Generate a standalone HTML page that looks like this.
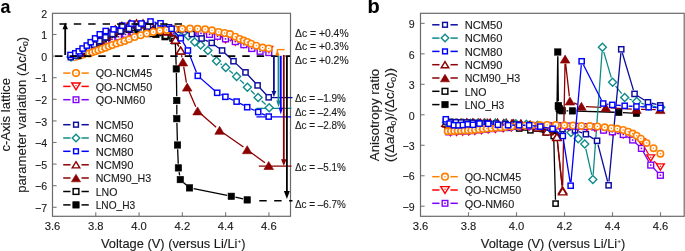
<!DOCTYPE html>
<html><head><meta charset="utf-8"><style>
html,body{margin:0;padding:0;background:#fff;}
body{width:685px;height:251px;overflow:hidden;}
svg{display:block;}
text{font-family:"Liberation Sans",sans-serif;}
svg{will-change:transform;}
text{stroke:#1a1a1a;stroke-width:0.12px;}
</style></head><body>
<svg width="685" height="251" viewBox="0 0 685 251">
<rect width="685" height="251" fill="#fff"/>
<g font-family="Liberation Sans, sans-serif">
<text x="0.6" y="13.3" font-size="19" text-anchor="start" font-weight="bold" fill="#000" textLength="9.9" lengthAdjust="spacingAndGlyphs">a</text>
<text x="47.2" y="17.6" font-size="10.6" text-anchor="end" font-weight="normal" fill="#1a1a1a">2</text>
<line x1="52.5" y1="34.5" x2="56.6" y2="34.5" stroke="#7a7a7a" stroke-width="1.1"/>
<text x="47.2" y="39.2" font-size="10.6" text-anchor="end" font-weight="normal" fill="#1a1a1a">1</text>
<line x1="52.5" y1="56.1" x2="56.6" y2="56.1" stroke="#7a7a7a" stroke-width="1.1"/>
<text x="47.2" y="60.8" font-size="10.6" text-anchor="end" font-weight="normal" fill="#1a1a1a">0</text>
<line x1="52.5" y1="77.7" x2="56.6" y2="77.7" stroke="#7a7a7a" stroke-width="1.1"/>
<text x="47.2" y="82.4" font-size="10.6" text-anchor="end" font-weight="normal" fill="#1a1a1a">−1</text>
<line x1="52.5" y1="99.3" x2="56.6" y2="99.3" stroke="#7a7a7a" stroke-width="1.1"/>
<text x="47.2" y="104" font-size="10.6" text-anchor="end" font-weight="normal" fill="#1a1a1a">−2</text>
<line x1="52.5" y1="120.9" x2="56.6" y2="120.9" stroke="#7a7a7a" stroke-width="1.1"/>
<text x="47.2" y="125.6" font-size="10.6" text-anchor="end" font-weight="normal" fill="#1a1a1a">−3</text>
<line x1="52.5" y1="142.5" x2="56.6" y2="142.5" stroke="#7a7a7a" stroke-width="1.1"/>
<text x="47.2" y="147.2" font-size="10.6" text-anchor="end" font-weight="normal" fill="#1a1a1a">−4</text>
<line x1="52.5" y1="164.1" x2="56.6" y2="164.1" stroke="#7a7a7a" stroke-width="1.1"/>
<text x="47.2" y="168.8" font-size="10.6" text-anchor="end" font-weight="normal" fill="#1a1a1a">−5</text>
<line x1="52.5" y1="185.7" x2="56.6" y2="185.7" stroke="#7a7a7a" stroke-width="1.1"/>
<text x="47.2" y="190.4" font-size="10.6" text-anchor="end" font-weight="normal" fill="#1a1a1a">−6</text>
<line x1="52.5" y1="207.3" x2="56.6" y2="207.3" stroke="#7a7a7a" stroke-width="1.1"/>
<text x="47.2" y="212" font-size="10.6" text-anchor="end" font-weight="normal" fill="#1a1a1a">−7</text>
<text x="52.5" y="229.9" font-size="10.5" text-anchor="middle" font-weight="normal" fill="#1a1a1a" textLength="15.6" lengthAdjust="spacingAndGlyphs">3.6</text>
<line x1="95.78" y1="216.3" x2="95.78" y2="212.20000000000002" stroke="#7a7a7a" stroke-width="1.1"/>
<text x="95.78" y="229.9" font-size="10.5" text-anchor="middle" font-weight="normal" fill="#1a1a1a" textLength="15.6" lengthAdjust="spacingAndGlyphs">3.8</text>
<line x1="139.06" y1="216.3" x2="139.06" y2="212.20000000000002" stroke="#7a7a7a" stroke-width="1.1"/>
<text x="139.06" y="229.9" font-size="10.5" text-anchor="middle" font-weight="normal" fill="#1a1a1a" textLength="15.6" lengthAdjust="spacingAndGlyphs">4.0</text>
<line x1="182.34" y1="216.3" x2="182.34" y2="212.20000000000002" stroke="#7a7a7a" stroke-width="1.1"/>
<text x="182.34" y="229.9" font-size="10.5" text-anchor="middle" font-weight="normal" fill="#1a1a1a" textLength="15.6" lengthAdjust="spacingAndGlyphs">4.2</text>
<line x1="225.62" y1="216.3" x2="225.62" y2="212.20000000000002" stroke="#7a7a7a" stroke-width="1.1"/>
<text x="225.62" y="229.9" font-size="10.5" text-anchor="middle" font-weight="normal" fill="#1a1a1a" textLength="15.6" lengthAdjust="spacingAndGlyphs">4.4</text>
<line x1="268.9" y1="216.3" x2="268.9" y2="212.20000000000002" stroke="#7a7a7a" stroke-width="1.1"/>
<text x="268.9" y="229.9" font-size="10.5" text-anchor="middle" font-weight="normal" fill="#1a1a1a" textLength="15.6" lengthAdjust="spacingAndGlyphs">4.6</text>
<text x="101" y="248.1" font-size="12.2" text-anchor="start" font-weight="normal" fill="#1a1a1a" textLength="144.5" lengthAdjust="spacingAndGlyphs">Voltage (V) (versus Li/Li<tspan font-size="6.2" dy="-5.6">+</tspan><tspan dy="5.6">)</tspan></text>
<g transform="translate(10.4,114.8) rotate(-90)"><text x="0" y="0" font-size="12.2" text-anchor="middle" fill="#1a1a1a" textLength="73.5" lengthAdjust="spacingAndGlyphs">c-Axis lattice</text></g>
<g transform="translate(25.6,114.8) rotate(-90)"><text x="0" y="0" font-size="12.2" text-anchor="middle" fill="#1a1a1a" textLength="156" lengthAdjust="spacingAndGlyphs">parameter variation (Δc/c<tspan font-size="8" dy="2.5">0</tspan><tspan dy="-2.5">)</tspan></text></g>
<rect x="52.5" y="13.3" width="238.0" height="203.0" fill="none" stroke="#6a6a6a" stroke-width="1.2"/>
<line x1="259.3" y1="200.8" x2="292.5" y2="200.8" stroke="#000" stroke-width="1.6" stroke-dasharray="7.4 7.5"/>
<line x1="258.8" y1="166.2" x2="291.5" y2="166.2" stroke="#8b0000" stroke-width="1.3"/>
<line x1="271.5" y1="97.6" x2="292.5" y2="97.6" stroke="#0c0c9e" stroke-width="1.3"/>
<line x1="256.4" y1="108.3" x2="291.3" y2="108.3" stroke="#108a8a" stroke-width="1.3"/>
<line x1="256.4" y1="116.8" x2="291" y2="116.8" stroke="#0000ff" stroke-width="1.3"/>
<line x1="74.3" y1="60.7" x2="86" y2="57.2" stroke="#ff7f00" stroke-width="1.3"/>
<path d="M229.97 40.79L230.83 41.01" fill="none" stroke="#ff0000" stroke-width="1.3" stroke-linecap="butt"/>
<path d="M90.5 55.3L94.4 49.1L86.6 49.1Z" fill="#fff" stroke="#ff0000" stroke-width="1.4" stroke-linejoin="miter"/><circle cx="90.5" cy="51.4" r="0.7" fill="#ff0000"/>
<path d="M96 52.3L99.9 46.1L92.1 46.1Z" fill="#fff" stroke="#ff0000" stroke-width="1.4" stroke-linejoin="miter"/><circle cx="96" cy="48.4" r="0.7" fill="#ff0000"/>
<path d="M101.5 49.4L105.4 43.2L97.6 43.2Z" fill="#fff" stroke="#ff0000" stroke-width="1.4" stroke-linejoin="miter"/><circle cx="101.5" cy="45.5" r="0.7" fill="#ff0000"/>
<path d="M107.5 46.5L111.4 40.3L103.6 40.3Z" fill="#fff" stroke="#ff0000" stroke-width="1.4" stroke-linejoin="miter"/><circle cx="107.5" cy="42.6" r="0.7" fill="#ff0000"/>
<path d="M113.5 43.9L117.4 37.7L109.6 37.7Z" fill="#fff" stroke="#ff0000" stroke-width="1.4" stroke-linejoin="miter"/><circle cx="113.5" cy="40" r="0.7" fill="#ff0000"/>
<path d="M120 41.5L123.9 35.3L116.1 35.3Z" fill="#fff" stroke="#ff0000" stroke-width="1.4" stroke-linejoin="miter"/><circle cx="120" cy="37.6" r="0.7" fill="#ff0000"/>
<path d="M127 39.3L130.9 33.1L123.1 33.1Z" fill="#fff" stroke="#ff0000" stroke-width="1.4" stroke-linejoin="miter"/><circle cx="127" cy="35.4" r="0.7" fill="#ff0000"/>
<path d="M134.5 37.5L138.4 31.3L130.6 31.3Z" fill="#fff" stroke="#ff0000" stroke-width="1.4" stroke-linejoin="miter"/><circle cx="134.5" cy="33.6" r="0.7" fill="#ff0000"/>
<path d="M142.5 36.1L146.4 29.9L138.6 29.9Z" fill="#fff" stroke="#ff0000" stroke-width="1.4" stroke-linejoin="miter"/><circle cx="142.5" cy="32.2" r="0.7" fill="#ff0000"/>
<path d="M151 35.1L154.9 28.9L147.1 28.9Z" fill="#fff" stroke="#ff0000" stroke-width="1.4" stroke-linejoin="miter"/><circle cx="151" cy="31.2" r="0.7" fill="#ff0000"/>
<path d="M160 34.6L163.9 28.4L156.1 28.4Z" fill="#fff" stroke="#ff0000" stroke-width="1.4" stroke-linejoin="miter"/><circle cx="160" cy="30.7" r="0.7" fill="#ff0000"/>
<path d="M169 34.5L172.9 28.3L165.1 28.3Z" fill="#fff" stroke="#ff0000" stroke-width="1.4" stroke-linejoin="miter"/><circle cx="169" cy="30.6" r="0.7" fill="#ff0000"/>
<path d="M178 34.7L181.9 28.5L174.1 28.5Z" fill="#fff" stroke="#ff0000" stroke-width="1.4" stroke-linejoin="miter"/><circle cx="178" cy="30.8" r="0.7" fill="#ff0000"/>
<path d="M186.5 35.1L190.4 28.9L182.6 28.9Z" fill="#fff" stroke="#ff0000" stroke-width="1.4" stroke-linejoin="miter"/><circle cx="186.5" cy="31.2" r="0.7" fill="#ff0000"/>
<path d="M194.5 35.6L198.4 29.4L190.6 29.4Z" fill="#fff" stroke="#ff0000" stroke-width="1.4" stroke-linejoin="miter"/><circle cx="194.5" cy="31.7" r="0.7" fill="#ff0000"/>
<path d="M202.5 36.1L206.4 29.9L198.6 29.9Z" fill="#fff" stroke="#ff0000" stroke-width="1.4" stroke-linejoin="miter"/><circle cx="202.5" cy="32.2" r="0.7" fill="#ff0000"/>
<path d="M209.8 36.5L213.7 30.3L205.9 30.3Z" fill="#fff" stroke="#ff0000" stroke-width="1.4" stroke-linejoin="miter"/><circle cx="209.8" cy="32.6" r="0.7" fill="#ff0000"/>
<path d="M217.5 39.6L221.4 33.4L213.6 33.4Z" fill="#fff" stroke="#ff0000" stroke-width="1.4" stroke-linejoin="miter"/><circle cx="217.5" cy="35.7" r="0.7" fill="#ff0000"/>
<path d="M225.5 42.8L229.4 36.6L221.6 36.6Z" fill="#fff" stroke="#ff0000" stroke-width="1.4" stroke-linejoin="miter"/><circle cx="225.5" cy="38.9" r="0.7" fill="#ff0000"/>
<path d="M235.3 45.2L239.2 39L231.4 39Z" fill="#fff" stroke="#ff0000" stroke-width="1.4" stroke-linejoin="miter"/><circle cx="235.3" cy="41.3" r="0.7" fill="#ff0000"/>
<path d="M243.8 47.4L247.7 41.2L239.9 41.2Z" fill="#fff" stroke="#ff0000" stroke-width="1.4" stroke-linejoin="miter"/><circle cx="243.8" cy="43.5" r="0.7" fill="#ff0000"/>
<path d="M251.7 49.6L255.6 43.4L247.8 43.4Z" fill="#fff" stroke="#ff0000" stroke-width="1.4" stroke-linejoin="miter"/><circle cx="251.7" cy="45.7" r="0.7" fill="#ff0000"/>
<path d="M260.1 51.6L264 45.4L256.2 45.4Z" fill="#fff" stroke="#ff0000" stroke-width="1.4" stroke-linejoin="miter"/><circle cx="260.1" cy="47.7" r="0.7" fill="#ff0000"/>
<path d="M268.8 52.7L272.7 46.5L264.9 46.5Z" fill="#fff" stroke="#ff0000" stroke-width="1.4" stroke-linejoin="miter"/><circle cx="268.8" cy="48.8" r="0.7" fill="#ff0000"/>
<path d="M144.99 31.12L145.51 31.08M153.5 30.71L154.5 30.69M162.5 30.64L163.5 30.66M171.5 30.88L172.5 30.92M180.49 31.38L181.01 31.42M204.97 33.81L205.53 33.89M221.3 37.54L221.7 37.66M229.36 39.96L231.44 40.54M239.06 42.97L240.04 43.33M247.4 46.43L248.1 46.77M255.49 49.76L256.31 50.04M264.06 51.89L264.84 52.01" fill="none" stroke="#8000ff" stroke-width="1.3" stroke-linecap="butt"/>
<rect x="86.1" y="48.9" width="5.8" height="5.8" fill="#fff" stroke="#8000ff" stroke-width="1.4"/><rect x="88.2" y="51" width="1.6" height="1.6" fill="#8000ff"/>
<rect x="91.6" y="45.7" width="5.8" height="5.8" fill="#fff" stroke="#8000ff" stroke-width="1.4"/><rect x="93.7" y="47.8" width="1.6" height="1.6" fill="#8000ff"/>
<rect x="97.1" y="42.5" width="5.8" height="5.8" fill="#fff" stroke="#8000ff" stroke-width="1.4"/><rect x="99.2" y="44.6" width="1.6" height="1.6" fill="#8000ff"/>
<rect x="103.1" y="39.4" width="5.8" height="5.8" fill="#fff" stroke="#8000ff" stroke-width="1.4"/><rect x="105.2" y="41.5" width="1.6" height="1.6" fill="#8000ff"/>
<rect x="109.1" y="36.5" width="5.8" height="5.8" fill="#fff" stroke="#8000ff" stroke-width="1.4"/><rect x="111.2" y="38.6" width="1.6" height="1.6" fill="#8000ff"/>
<rect x="115.6" y="33.9" width="5.8" height="5.8" fill="#fff" stroke="#8000ff" stroke-width="1.4"/><rect x="117.7" y="36" width="1.6" height="1.6" fill="#8000ff"/>
<rect x="122.6" y="31.5" width="5.8" height="5.8" fill="#fff" stroke="#8000ff" stroke-width="1.4"/><rect x="124.7" y="33.6" width="1.6" height="1.6" fill="#8000ff"/>
<rect x="130.1" y="29.7" width="5.8" height="5.8" fill="#fff" stroke="#8000ff" stroke-width="1.4"/><rect x="132.2" y="31.8" width="1.6" height="1.6" fill="#8000ff"/>
<rect x="138.1" y="28.5" width="5.8" height="5.8" fill="#fff" stroke="#8000ff" stroke-width="1.4"/><rect x="140.2" y="30.6" width="1.6" height="1.6" fill="#8000ff"/>
<rect x="146.6" y="27.9" width="5.8" height="5.8" fill="#fff" stroke="#8000ff" stroke-width="1.4"/><rect x="148.7" y="30" width="1.6" height="1.6" fill="#8000ff"/>
<rect x="155.6" y="27.7" width="5.8" height="5.8" fill="#fff" stroke="#8000ff" stroke-width="1.4"/><rect x="157.7" y="29.8" width="1.6" height="1.6" fill="#8000ff"/>
<rect x="164.6" y="27.8" width="5.8" height="5.8" fill="#fff" stroke="#8000ff" stroke-width="1.4"/><rect x="166.7" y="29.9" width="1.6" height="1.6" fill="#8000ff"/>
<rect x="173.6" y="28.2" width="5.8" height="5.8" fill="#fff" stroke="#8000ff" stroke-width="1.4"/><rect x="175.7" y="30.3" width="1.6" height="1.6" fill="#8000ff"/>
<rect x="182.1" y="28.8" width="5.8" height="5.8" fill="#fff" stroke="#8000ff" stroke-width="1.4"/><rect x="184.2" y="30.9" width="1.6" height="1.6" fill="#8000ff"/>
<rect x="190.1" y="29.6" width="5.8" height="5.8" fill="#fff" stroke="#8000ff" stroke-width="1.4"/><rect x="192.2" y="31.7" width="1.6" height="1.6" fill="#8000ff"/>
<rect x="198.1" y="30.4" width="5.8" height="5.8" fill="#fff" stroke="#8000ff" stroke-width="1.4"/><rect x="200.2" y="32.5" width="1.6" height="1.6" fill="#8000ff"/>
<rect x="206.6" y="31.5" width="5.8" height="5.8" fill="#fff" stroke="#8000ff" stroke-width="1.4"/><rect x="208.7" y="33.6" width="1.6" height="1.6" fill="#8000ff"/>
<rect x="214.6" y="33.4" width="5.8" height="5.8" fill="#fff" stroke="#8000ff" stroke-width="1.4"/><rect x="216.7" y="35.5" width="1.6" height="1.6" fill="#8000ff"/>
<rect x="222.6" y="36" width="5.8" height="5.8" fill="#fff" stroke="#8000ff" stroke-width="1.4"/><rect x="224.7" y="38.1" width="1.6" height="1.6" fill="#8000ff"/>
<rect x="232.4" y="38.7" width="5.8" height="5.8" fill="#fff" stroke="#8000ff" stroke-width="1.4"/><rect x="234.5" y="40.8" width="1.6" height="1.6" fill="#8000ff"/>
<rect x="240.9" y="41.8" width="5.8" height="5.8" fill="#fff" stroke="#8000ff" stroke-width="1.4"/><rect x="243" y="43.9" width="1.6" height="1.6" fill="#8000ff"/>
<rect x="248.8" y="45.6" width="5.8" height="5.8" fill="#fff" stroke="#8000ff" stroke-width="1.4"/><rect x="250.9" y="47.7" width="1.6" height="1.6" fill="#8000ff"/>
<rect x="257.2" y="48.4" width="5.8" height="5.8" fill="#fff" stroke="#8000ff" stroke-width="1.4"/><rect x="259.3" y="50.5" width="1.6" height="1.6" fill="#8000ff"/>
<rect x="265.9" y="49.7" width="5.8" height="5.8" fill="#fff" stroke="#8000ff" stroke-width="1.4"/><rect x="268" y="51.8" width="1.6" height="1.6" fill="#8000ff"/>
<path d="M133.2 29.64L133.8 29.66M142.13 30.58L142.87 30.72M150.98 32.83L152.02 33.17M160.07 35.54L160.93 35.76M169.06 37.87L171.14 38.43M175.36 43.7L176.14 64.7M176.37 73.1L176.73 96.3M176.8 104.7L176.8 114.5M176.91 122.9L177.39 140.8M177.66 149.2L178.24 163.7M179.07 172.05L179.63 175.45M183.42 182.41L186.38 185.09M193.62 188.73L227.18 195.47M235.4 197.23L243.1 198.97" fill="none" stroke="#000000" stroke-width="1.3" stroke-linecap="butt"/>
<rect x="74.8" y="52.4" width="6.4" height="6.4" fill="#000000" stroke="#000000" stroke-width="0.6"/>
<rect x="80.3" y="49.6" width="6.4" height="6.4" fill="#000000" stroke="#000000" stroke-width="0.6"/>
<rect x="85.8" y="46.2" width="6.4" height="6.4" fill="#000000" stroke="#000000" stroke-width="0.6"/>
<rect x="91.3" y="42.4" width="6.4" height="6.4" fill="#000000" stroke="#000000" stroke-width="0.6"/>
<rect x="97.3" y="38.3" width="6.4" height="6.4" fill="#000000" stroke="#000000" stroke-width="0.6"/>
<rect x="103.8" y="34.3" width="6.4" height="6.4" fill="#000000" stroke="#000000" stroke-width="0.6"/>
<rect x="110.8" y="30.6" width="6.4" height="6.4" fill="#000000" stroke="#000000" stroke-width="0.6"/>
<rect x="117.8" y="27.8" width="6.4" height="6.4" fill="#000000" stroke="#000000" stroke-width="0.6"/>
<rect x="125.8" y="26.3" width="6.4" height="6.4" fill="#000000" stroke="#000000" stroke-width="0.6"/>
<rect x="134.8" y="26.6" width="6.4" height="6.4" fill="#000000" stroke="#000000" stroke-width="0.6"/>
<rect x="143.8" y="28.3" width="6.4" height="6.4" fill="#000000" stroke="#000000" stroke-width="0.6"/>
<rect x="152.8" y="31.3" width="6.4" height="6.4" fill="#000000" stroke="#000000" stroke-width="0.6"/>
<rect x="161.8" y="33.6" width="6.4" height="6.4" fill="#000000" stroke="#000000" stroke-width="0.6"/>
<rect x="172" y="36.3" width="6.4" height="6.4" fill="#000000" stroke="#000000" stroke-width="0.6"/>
<rect x="173.1" y="65.7" width="6.4" height="6.4" fill="#000000" stroke="#000000" stroke-width="0.6"/>
<rect x="173.6" y="97.3" width="6.4" height="6.4" fill="#000000" stroke="#000000" stroke-width="0.6"/>
<rect x="173.6" y="115.5" width="6.4" height="6.4" fill="#000000" stroke="#000000" stroke-width="0.6"/>
<rect x="174.3" y="141.8" width="6.4" height="6.4" fill="#000000" stroke="#000000" stroke-width="0.6"/>
<rect x="175.2" y="164.7" width="6.4" height="6.4" fill="#000000" stroke="#000000" stroke-width="0.6"/>
<rect x="177.1" y="176.4" width="6.4" height="6.4" fill="#000000" stroke="#000000" stroke-width="0.6"/>
<rect x="186.3" y="184.7" width="6.4" height="6.4" fill="#000000" stroke="#000000" stroke-width="0.6"/>
<rect x="228.1" y="193.1" width="6.4" height="6.4" fill="#000000" stroke="#000000" stroke-width="0.6"/>
<rect x="244" y="196.7" width="6.4" height="6.4" fill="#000000" stroke="#000000" stroke-width="0.6"/>
<path d="M125.6 27.69L127.8 27.81M135.52 28.78L137.68 29.22M145.14 31.4L147.96 32.5M155.46 34.46L161.64 35.34" fill="none" stroke="#000000" stroke-width="1.3" stroke-linecap="butt"/>
<rect x="74.4" y="52.6" width="5.2" height="5.2" fill="#fff" stroke="#000000" stroke-width="1.45"/>
<rect x="79.4" y="50.1" width="5.2" height="5.2" fill="#fff" stroke="#000000" stroke-width="1.45"/>
<rect x="84.4" y="47.1" width="5.2" height="5.2" fill="#fff" stroke="#000000" stroke-width="1.45"/>
<rect x="89.4" y="43.7" width="5.2" height="5.2" fill="#fff" stroke="#000000" stroke-width="1.45"/>
<rect x="94.9" y="39.9" width="5.2" height="5.2" fill="#fff" stroke="#000000" stroke-width="1.45"/>
<rect x="100.9" y="36" width="5.2" height="5.2" fill="#fff" stroke="#000000" stroke-width="1.45"/>
<rect x="107.4" y="32.2" width="5.2" height="5.2" fill="#fff" stroke="#000000" stroke-width="1.45"/>
<rect x="113.4" y="28.9" width="5.2" height="5.2" fill="#fff" stroke="#000000" stroke-width="1.45"/>
<rect x="119.1" y="24.9" width="5.2" height="5.2" fill="#fff" stroke="#000000" stroke-width="1.45"/>
<rect x="129.1" y="25.4" width="5.2" height="5.2" fill="#fff" stroke="#000000" stroke-width="1.45"/>
<rect x="138.9" y="27.4" width="5.2" height="5.2" fill="#fff" stroke="#000000" stroke-width="1.45"/>
<rect x="149" y="31.3" width="5.2" height="5.2" fill="#fff" stroke="#000000" stroke-width="1.45"/>
<rect x="162.9" y="33.3" width="5.2" height="5.2" fill="#fff" stroke="#000000" stroke-width="1.45"/>
<rect x="170" y="35.9" width="5.2" height="5.2" fill="#fff" stroke="#000000" stroke-width="1.45"/>
<rect x="171.7" y="38.4" width="5.2" height="5.2" fill="#fff" stroke="#000000" stroke-width="1.45"/>
<path d="M164.07 29.15L164.43 29.35M171.53 34.96L172.47 36.04M177.43 43.67L178.67 46.33M181.5 55.01L182 57.49M183.68 66.53L186.42 82.57M189.04 91.32L195.76 106.68M201.05 113.94L216.15 127.26M223.36 132.95L243.44 147.05M250.91 152.42L264.99 162.78" fill="none" stroke="#8b0000" stroke-width="1.3" stroke-linecap="butt"/>
<path d="M81 48.6L85.8 56.6L76.2 56.6Z" fill="#8b0000" stroke="#8b0000" stroke-width="0.6"/>
<path d="M85.5 46.5L90.3 54.5L80.7 54.5Z" fill="#8b0000" stroke="#8b0000" stroke-width="0.6"/>
<path d="M90 43.3L94.8 51.3L85.2 51.3Z" fill="#8b0000" stroke="#8b0000" stroke-width="0.6"/>
<path d="M95 39.6L99.8 47.6L90.2 47.6Z" fill="#8b0000" stroke="#8b0000" stroke-width="0.6"/>
<path d="M100.5 35.5L105.3 43.5L95.7 43.5Z" fill="#8b0000" stroke="#8b0000" stroke-width="0.6"/>
<path d="M106.5 31.3L111.3 39.3L101.7 39.3Z" fill="#8b0000" stroke="#8b0000" stroke-width="0.6"/>
<path d="M113 27.3L117.8 35.3L108.2 35.3Z" fill="#8b0000" stroke="#8b0000" stroke-width="0.6"/>
<path d="M120 24L124.8 32L115.2 32Z" fill="#8b0000" stroke="#8b0000" stroke-width="0.6"/>
<path d="M127.5 21.7L132.3 29.7L122.7 29.7Z" fill="#8b0000" stroke="#8b0000" stroke-width="0.6"/>
<path d="M135 20.5L139.8 28.5L130.2 28.5Z" fill="#8b0000" stroke="#8b0000" stroke-width="0.6"/>
<path d="M143 20.3L147.8 28.3L138.2 28.3Z" fill="#8b0000" stroke="#8b0000" stroke-width="0.6"/>
<path d="M151.5 21L156.3 29L146.7 29Z" fill="#8b0000" stroke="#8b0000" stroke-width="0.6"/>
<path d="M160 23L164.8 31L155.2 31Z" fill="#8b0000" stroke="#8b0000" stroke-width="0.6"/>
<path d="M168.5 27.5L173.3 35.5L163.7 35.5Z" fill="#8b0000" stroke="#8b0000" stroke-width="0.6"/>
<path d="M175.5 35.5L180.3 43.5L170.7 43.5Z" fill="#8b0000" stroke="#8b0000" stroke-width="0.6"/>
<path d="M180.6 46.5L185.4 54.5L175.8 54.5Z" fill="#8b0000" stroke="#8b0000" stroke-width="0.6"/>
<path d="M182.9 58L187.7 66L178.1 66Z" fill="#8b0000" stroke="#8b0000" stroke-width="0.6"/>
<path d="M187.2 83.1L192 91.1L182.4 91.1Z" fill="#8b0000" stroke="#8b0000" stroke-width="0.6"/>
<path d="M197.6 106.9L202.4 114.9L192.8 114.9Z" fill="#8b0000" stroke="#8b0000" stroke-width="0.6"/>
<path d="M219.6 126.3L224.4 134.3L214.8 134.3Z" fill="#8b0000" stroke="#8b0000" stroke-width="0.6"/>
<path d="M247.2 145.7L252 153.7L242.4 153.7Z" fill="#8b0000" stroke="#8b0000" stroke-width="0.6"/>
<path d="M268.7 161.5L273.5 169.5L263.9 169.5Z" fill="#8b0000" stroke="#8b0000" stroke-width="0.6"/>
<path d="M152.78 26.38L153.22 26.42M162.69 27.83L163.31 27.97M172.56 30.5L173.44 30.8M182.51 33.94L183.69 34.36M210.96 54.2L213.44 57.2M220.42 63.67L221.78 64.63M229.38 70.48L232.92 73.42M240.01 79.88L243.99 83.82M250.84 90.55L254.66 94.25M261.63 100.85L265.67 104.55" fill="none" stroke="#108a8a" stroke-width="1.3" stroke-linecap="butt"/>
<path d="M71 53L75 57L71 61L67 57Z" fill="#fff" stroke="#108a8a" stroke-width="1.4"/>
<path d="M76 50.8L80 54.8L76 58.8L72 54.8Z" fill="#fff" stroke="#108a8a" stroke-width="1.4"/>
<path d="M81 48.2L85 52.2L81 56.2L77 52.2Z" fill="#fff" stroke="#108a8a" stroke-width="1.4"/>
<path d="M86 45L90 49L86 53L82 49Z" fill="#fff" stroke="#108a8a" stroke-width="1.4"/>
<path d="M91.5 41.5L95.5 45.5L91.5 49.5L87.5 45.5Z" fill="#fff" stroke="#108a8a" stroke-width="1.4"/>
<path d="M97.5 37.2L101.5 41.2L97.5 45.2L93.5 41.2Z" fill="#fff" stroke="#108a8a" stroke-width="1.4"/>
<path d="M104 33L108 37L104 41L100 37Z" fill="#fff" stroke="#108a8a" stroke-width="1.4"/>
<path d="M111.5 29L115.5 33L111.5 37L107.5 33Z" fill="#fff" stroke="#108a8a" stroke-width="1.4"/>
<path d="M120 25.8L124 29.8L120 33.8L116 29.8Z" fill="#fff" stroke="#108a8a" stroke-width="1.4"/>
<path d="M129 23.5L133 27.5L129 31.5L125 27.5Z" fill="#fff" stroke="#108a8a" stroke-width="1.4"/>
<path d="M138.5 22.3L142.5 26.3L138.5 30.3L134.5 26.3Z" fill="#fff" stroke="#108a8a" stroke-width="1.4"/>
<path d="M148 22L152 26L148 30L144 26Z" fill="#fff" stroke="#108a8a" stroke-width="1.4"/>
<path d="M158 22.8L162 26.8L158 30.8L154 26.8Z" fill="#fff" stroke="#108a8a" stroke-width="1.4"/>
<path d="M168 25L172 29L168 33L164 29Z" fill="#fff" stroke="#108a8a" stroke-width="1.4"/>
<path d="M178 28.3L182 32.3L178 36.3L174 32.3Z" fill="#fff" stroke="#108a8a" stroke-width="1.4"/>
<path d="M188.2 32L192.2 36L188.2 40L184.2 36Z" fill="#fff" stroke="#108a8a" stroke-width="1.4"/>
<path d="M194.7 37.9L198.7 41.9L194.7 45.9L190.7 41.9Z" fill="#fff" stroke="#108a8a" stroke-width="1.4"/>
<path d="M200.6 40.9L204.6 44.9L200.6 48.9L196.6 44.9Z" fill="#fff" stroke="#108a8a" stroke-width="1.4"/>
<path d="M207.9 46.5L211.9 50.5L207.9 54.5L203.9 50.5Z" fill="#fff" stroke="#108a8a" stroke-width="1.4"/>
<path d="M216.5 56.9L220.5 60.9L216.5 64.9L212.5 60.9Z" fill="#fff" stroke="#108a8a" stroke-width="1.4"/>
<path d="M225.7 63.4L229.7 67.4L225.7 71.4L221.7 67.4Z" fill="#fff" stroke="#108a8a" stroke-width="1.4"/>
<path d="M236.6 72.5L240.6 76.5L236.6 80.5L232.6 76.5Z" fill="#fff" stroke="#108a8a" stroke-width="1.4"/>
<path d="M247.4 83.2L251.4 87.2L247.4 91.2L243.4 87.2Z" fill="#fff" stroke="#108a8a" stroke-width="1.4"/>
<path d="M258.1 93.6L262.1 97.6L258.1 101.6L254.1 97.6Z" fill="#fff" stroke="#108a8a" stroke-width="1.4"/>
<path d="M269.2 103.8L273.2 107.8L269.2 111.8L265.2 107.8Z" fill="#fff" stroke="#108a8a" stroke-width="1.4"/>
<path d="M161.81 28.49L162.79 29.01M169.66 34.02L172.44 36.78M177.38 43.67L178.82 46.63" fill="none" stroke="#8b0000" stroke-width="1.3" stroke-linecap="butt"/>
<path d="M80 48.9L84.2 55.7L75.8 55.7Z" fill="#fff" stroke="#8b0000" stroke-width="1.4" stroke-linejoin="miter"/>
<path d="M84.5 46.8L88.7 53.6L80.3 53.6Z" fill="#fff" stroke="#8b0000" stroke-width="1.4" stroke-linejoin="miter"/>
<path d="M89 44L93.2 50.8L84.8 50.8Z" fill="#fff" stroke="#8b0000" stroke-width="1.4" stroke-linejoin="miter"/>
<path d="M94 40.6L98.2 47.4L89.8 47.4Z" fill="#fff" stroke="#8b0000" stroke-width="1.4" stroke-linejoin="miter"/>
<path d="M99.5 36.9L103.7 43.7L95.3 43.7Z" fill="#fff" stroke="#8b0000" stroke-width="1.4" stroke-linejoin="miter"/>
<path d="M105 33.1L109.2 39.9L100.8 39.9Z" fill="#fff" stroke="#8b0000" stroke-width="1.4" stroke-linejoin="miter"/>
<path d="M110 29.4L114.2 36.2L105.8 36.2Z" fill="#fff" stroke="#8b0000" stroke-width="1.4" stroke-linejoin="miter"/>
<path d="M115.3 25.8L119.5 32.6L111.1 32.6Z" fill="#fff" stroke="#8b0000" stroke-width="1.4" stroke-linejoin="miter"/>
<path d="M121.9 22.4L126.1 29.2L117.7 29.2Z" fill="#fff" stroke="#8b0000" stroke-width="1.4" stroke-linejoin="miter"/>
<path d="M129.9 20.1L134.1 26.9L125.7 26.9Z" fill="#fff" stroke="#8b0000" stroke-width="1.4" stroke-linejoin="miter"/>
<path d="M136.5 19.9L140.7 26.7L132.3 26.7Z" fill="#fff" stroke="#8b0000" stroke-width="1.4" stroke-linejoin="miter"/>
<path d="M143 19.9L147.2 26.7L138.8 26.7Z" fill="#fff" stroke="#8b0000" stroke-width="1.4" stroke-linejoin="miter"/>
<path d="M150.5 20.8L154.7 27.6L146.3 27.6Z" fill="#fff" stroke="#8b0000" stroke-width="1.4" stroke-linejoin="miter"/>
<path d="M158 23.1L162.2 29.9L153.8 29.9Z" fill="#fff" stroke="#8b0000" stroke-width="1.4" stroke-linejoin="miter"/>
<path d="M166.6 27.6L170.8 34.4L162.4 34.4Z" fill="#fff" stroke="#8b0000" stroke-width="1.4" stroke-linejoin="miter"/>
<path d="M175.5 36.4L179.7 43.2L171.3 43.2Z" fill="#fff" stroke="#8b0000" stroke-width="1.4" stroke-linejoin="miter"/>
<path d="M180.7 47.1L184.9 53.9L176.5 53.9Z" fill="#fff" stroke="#8b0000" stroke-width="1.4" stroke-linejoin="miter"/>
<path d="M116.15 32.63L116.85 32.37M124.28 30.02L125.22 29.78M132.85 28.19L134.65 27.91M142.39 26.97L144.11 26.83M151.9 26.46L154.1 26.44M161.89 26.72L165.11 26.98M172.82 28.06L176.68 28.84M184.13 31.02L188.17 32.58M195.34 35.63L198.06 36.87M205.18 40.06L208.12 41.34M214.85 45.2L218.95 48.2M224.94 53.17L230.66 58.53M236.35 63.86L242.65 69.74M248.16 75.25L254.94 82.55M260.26 88.25L266.04 94.45" fill="none" stroke="#0c0c9e" stroke-width="1.3" stroke-linecap="butt"/>
<rect x="68.2" y="54.6" width="5.2" height="5.2" fill="#fff" stroke="#0c0c9e" stroke-width="1.45"/>
<rect x="72.9" y="52.9" width="5.2" height="5.2" fill="#fff" stroke="#0c0c9e" stroke-width="1.45"/>
<rect x="77.4" y="50.7" width="5.2" height="5.2" fill="#fff" stroke="#0c0c9e" stroke-width="1.45"/>
<rect x="81.9" y="48.1" width="5.2" height="5.2" fill="#fff" stroke="#0c0c9e" stroke-width="1.45"/>
<rect x="86.4" y="45.2" width="5.2" height="5.2" fill="#fff" stroke="#0c0c9e" stroke-width="1.45"/>
<rect x="91.4" y="42" width="5.2" height="5.2" fill="#fff" stroke="#0c0c9e" stroke-width="1.45"/>
<rect x="96.9" y="38.4" width="5.2" height="5.2" fill="#fff" stroke="#0c0c9e" stroke-width="1.45"/>
<rect x="102.9" y="34.7" width="5.2" height="5.2" fill="#fff" stroke="#0c0c9e" stroke-width="1.45"/>
<rect x="109.9" y="31.4" width="5.2" height="5.2" fill="#fff" stroke="#0c0c9e" stroke-width="1.45"/>
<rect x="117.9" y="28.4" width="5.2" height="5.2" fill="#fff" stroke="#0c0c9e" stroke-width="1.45"/>
<rect x="126.4" y="26.2" width="5.2" height="5.2" fill="#fff" stroke="#0c0c9e" stroke-width="1.45"/>
<rect x="135.9" y="24.7" width="5.2" height="5.2" fill="#fff" stroke="#0c0c9e" stroke-width="1.45"/>
<rect x="145.4" y="23.9" width="5.2" height="5.2" fill="#fff" stroke="#0c0c9e" stroke-width="1.45"/>
<rect x="155.4" y="23.8" width="5.2" height="5.2" fill="#fff" stroke="#0c0c9e" stroke-width="1.45"/>
<rect x="166.4" y="24.7" width="5.2" height="5.2" fill="#fff" stroke="#0c0c9e" stroke-width="1.45"/>
<rect x="177.9" y="27" width="5.2" height="5.2" fill="#fff" stroke="#0c0c9e" stroke-width="1.45"/>
<rect x="189.2" y="31.4" width="5.2" height="5.2" fill="#fff" stroke="#0c0c9e" stroke-width="1.45"/>
<rect x="199" y="35.9" width="5.2" height="5.2" fill="#fff" stroke="#0c0c9e" stroke-width="1.45"/>
<rect x="209.1" y="40.3" width="5.2" height="5.2" fill="#fff" stroke="#0c0c9e" stroke-width="1.45"/>
<rect x="219.5" y="47.9" width="5.2" height="5.2" fill="#fff" stroke="#0c0c9e" stroke-width="1.45"/>
<rect x="230.9" y="58.6" width="5.2" height="5.2" fill="#fff" stroke="#0c0c9e" stroke-width="1.45"/>
<rect x="242.9" y="69.8" width="5.2" height="5.2" fill="#fff" stroke="#0c0c9e" stroke-width="1.45"/>
<rect x="255" y="82.8" width="5.2" height="5.2" fill="#fff" stroke="#0c0c9e" stroke-width="1.45"/>
<rect x="266.1" y="94.7" width="5.2" height="5.2" fill="#fff" stroke="#0c0c9e" stroke-width="1.45"/>
<circle cx="89.1" cy="53.48" r="3.2" fill="#fff" stroke="#ff7f00" stroke-width="1.6"/><circle cx="89.1" cy="53.48" r="0.7" fill="#ff7f00"/>
<circle cx="92.2" cy="52.35" r="3.2" fill="#fff" stroke="#ff7f00" stroke-width="1.6"/><circle cx="92.2" cy="52.35" r="0.7" fill="#ff7f00"/>
<circle cx="95.3" cy="51.24" r="3.2" fill="#fff" stroke="#ff7f00" stroke-width="1.6"/><circle cx="95.3" cy="51.24" r="0.7" fill="#ff7f00"/>
<circle cx="98.4" cy="50.16" r="3.2" fill="#fff" stroke="#ff7f00" stroke-width="1.6"/><circle cx="98.4" cy="50.16" r="0.7" fill="#ff7f00"/>
<circle cx="101.7" cy="49" r="3.2" fill="#fff" stroke="#ff7f00" stroke-width="1.6"/><circle cx="101.7" cy="49" r="0.7" fill="#ff7f00"/>
<circle cx="105.3" cy="47.63" r="3.2" fill="#fff" stroke="#ff7f00" stroke-width="1.6"/><circle cx="105.3" cy="47.63" r="0.7" fill="#ff7f00"/>
<circle cx="108.8" cy="46.3" r="3.2" fill="#fff" stroke="#ff7f00" stroke-width="1.6"/><circle cx="108.8" cy="46.3" r="0.7" fill="#ff7f00"/>
<circle cx="112.3" cy="45" r="3.2" fill="#fff" stroke="#ff7f00" stroke-width="1.6"/><circle cx="112.3" cy="45" r="0.7" fill="#ff7f00"/>
<circle cx="116.5" cy="43.53" r="3.2" fill="#fff" stroke="#ff7f00" stroke-width="1.6"/><circle cx="116.5" cy="43.53" r="0.7" fill="#ff7f00"/>
<circle cx="120.5" cy="42.27" r="3.2" fill="#fff" stroke="#ff7f00" stroke-width="1.6"/><circle cx="120.5" cy="42.27" r="0.7" fill="#ff7f00"/>
<circle cx="124.6" cy="40.99" r="3.2" fill="#fff" stroke="#ff7f00" stroke-width="1.6"/><circle cx="124.6" cy="40.99" r="0.7" fill="#ff7f00"/>
<circle cx="129" cy="39.3" r="3.2" fill="#fff" stroke="#ff7f00" stroke-width="1.6"/><circle cx="129" cy="39.3" r="0.7" fill="#ff7f00"/>
<circle cx="134.6" cy="36.98" r="3.2" fill="#fff" stroke="#ff7f00" stroke-width="1.6"/><circle cx="134.6" cy="36.98" r="0.7" fill="#ff7f00"/>
<circle cx="140.7" cy="35.26" r="3.2" fill="#fff" stroke="#ff7f00" stroke-width="1.6"/><circle cx="140.7" cy="35.26" r="0.7" fill="#ff7f00"/>
<circle cx="146.7" cy="33.54" r="3.2" fill="#fff" stroke="#ff7f00" stroke-width="1.6"/><circle cx="146.7" cy="33.54" r="0.7" fill="#ff7f00"/>
<circle cx="153.3" cy="32" r="3.2" fill="#fff" stroke="#ff7f00" stroke-width="1.6"/><circle cx="153.3" cy="32" r="0.7" fill="#ff7f00"/>
<circle cx="159.9" cy="30.6" r="3.2" fill="#fff" stroke="#ff7f00" stroke-width="1.6"/><circle cx="159.9" cy="30.6" r="0.7" fill="#ff7f00"/>
<circle cx="166.7" cy="29.9" r="3.2" fill="#fff" stroke="#ff7f00" stroke-width="1.6"/><circle cx="166.7" cy="29.9" r="0.7" fill="#ff7f00"/>
<circle cx="174.5" cy="29.1" r="3.2" fill="#fff" stroke="#ff7f00" stroke-width="1.6"/><circle cx="174.5" cy="29.1" r="0.7" fill="#ff7f00"/>
<circle cx="182.2" cy="28.8" r="3.2" fill="#fff" stroke="#ff7f00" stroke-width="1.6"/><circle cx="182.2" cy="28.8" r="0.7" fill="#ff7f00"/>
<circle cx="190" cy="28.6" r="3.2" fill="#fff" stroke="#ff7f00" stroke-width="1.6"/><circle cx="190" cy="28.6" r="0.7" fill="#ff7f00"/>
<circle cx="197.6" cy="28.8" r="3.2" fill="#fff" stroke="#ff7f00" stroke-width="1.6"/><circle cx="197.6" cy="28.8" r="0.7" fill="#ff7f00"/>
<circle cx="205.2" cy="29.29" r="3.2" fill="#fff" stroke="#ff7f00" stroke-width="1.6"/><circle cx="205.2" cy="29.29" r="0.7" fill="#ff7f00"/>
<circle cx="212" cy="30.35" r="3.2" fill="#fff" stroke="#ff7f00" stroke-width="1.6"/><circle cx="212" cy="30.35" r="0.7" fill="#ff7f00"/>
<circle cx="218.6" cy="31.92" r="3.2" fill="#fff" stroke="#ff7f00" stroke-width="1.6"/><circle cx="218.6" cy="31.92" r="0.7" fill="#ff7f00"/>
<circle cx="224.6" cy="33.02" r="3.2" fill="#fff" stroke="#ff7f00" stroke-width="1.6"/><circle cx="224.6" cy="33.02" r="0.7" fill="#ff7f00"/>
<circle cx="230" cy="34.1" r="3.2" fill="#fff" stroke="#ff7f00" stroke-width="1.6"/><circle cx="230" cy="34.1" r="0.7" fill="#ff7f00"/>
<circle cx="235.3" cy="36.7" r="3.2" fill="#fff" stroke="#ff7f00" stroke-width="1.6"/><circle cx="235.3" cy="36.7" r="0.7" fill="#ff7f00"/>
<circle cx="239.7" cy="38.88" r="3.2" fill="#fff" stroke="#ff7f00" stroke-width="1.6"/><circle cx="239.7" cy="38.88" r="0.7" fill="#ff7f00"/>
<circle cx="243.8" cy="40.56" r="3.2" fill="#fff" stroke="#ff7f00" stroke-width="1.6"/><circle cx="243.8" cy="40.56" r="0.7" fill="#ff7f00"/>
<circle cx="247.4" cy="42.02" r="3.2" fill="#fff" stroke="#ff7f00" stroke-width="1.6"/><circle cx="247.4" cy="42.02" r="0.7" fill="#ff7f00"/>
<circle cx="251.2" cy="43.72" r="3.2" fill="#fff" stroke="#ff7f00" stroke-width="1.6"/><circle cx="251.2" cy="43.72" r="0.7" fill="#ff7f00"/>
<circle cx="256.3" cy="45.66" r="3.2" fill="#fff" stroke="#ff7f00" stroke-width="1.6"/><circle cx="256.3" cy="45.66" r="0.7" fill="#ff7f00"/>
<circle cx="262.6" cy="47.54" r="3.2" fill="#fff" stroke="#ff7f00" stroke-width="1.6"/><circle cx="262.6" cy="47.54" r="0.7" fill="#ff7f00"/>
<circle cx="268.8" cy="48.39" r="3.2" fill="#fff" stroke="#ff7f00" stroke-width="1.6"/><circle cx="268.8" cy="48.39" r="0.7" fill="#ff7f00"/>
<path d="M117.2 27.81L118.7 27.19M126.1 24.83L127.7 24.47M135.4 23.56L137.5 23.54M145.21 22.66L146.69 22.34M154.34 22.19L156.66 22.61M163.99 25.03L168.11 27.07M174.31 31.6L178.09 35.5M182.76 41.67L185.94 47.13M189.32 54.13L196.38 72.17M200.73 78.37L214.27 90.23M220.71 94.51L221.89 95.09M228.98 98.34L233.02 100.06M240.05 103.42L243.75 105.38M250.77 108.76L254.63 110.44M261.77 113.56L265.13 115.04" fill="none" stroke="#0000ff" stroke-width="1.3" stroke-linecap="butt"/>
<rect x="67.9" y="52.4" width="5.2" height="5.2" fill="#fff" stroke="#0000ff" stroke-width="1.45"/>
<rect x="72.7" y="50.7" width="5.2" height="5.2" fill="#fff" stroke="#0000ff" stroke-width="1.45"/>
<rect x="76.2" y="48.7" width="5.2" height="5.2" fill="#fff" stroke="#0000ff" stroke-width="1.45"/>
<rect x="80" y="45.9" width="5.2" height="5.2" fill="#fff" stroke="#0000ff" stroke-width="1.45"/>
<rect x="84.2" y="43" width="5.2" height="5.2" fill="#fff" stroke="#0000ff" stroke-width="1.45"/>
<rect x="88.1" y="39.6" width="5.2" height="5.2" fill="#fff" stroke="#0000ff" stroke-width="1.45"/>
<rect x="92.5" y="35.8" width="5.2" height="5.2" fill="#fff" stroke="#0000ff" stroke-width="1.45"/>
<rect x="97.2" y="31.7" width="5.2" height="5.2" fill="#fff" stroke="#0000ff" stroke-width="1.45"/>
<rect x="103.1" y="28.4" width="5.2" height="5.2" fill="#fff" stroke="#0000ff" stroke-width="1.45"/>
<rect x="111" y="26.7" width="5.2" height="5.2" fill="#fff" stroke="#0000ff" stroke-width="1.45"/>
<rect x="119.7" y="23.1" width="5.2" height="5.2" fill="#fff" stroke="#0000ff" stroke-width="1.45"/>
<rect x="128.9" y="21" width="5.2" height="5.2" fill="#fff" stroke="#0000ff" stroke-width="1.45"/>
<rect x="138.8" y="20.9" width="5.2" height="5.2" fill="#fff" stroke="#0000ff" stroke-width="1.45"/>
<rect x="147.9" y="18.9" width="5.2" height="5.2" fill="#fff" stroke="#0000ff" stroke-width="1.45"/>
<rect x="157.9" y="20.7" width="5.2" height="5.2" fill="#fff" stroke="#0000ff" stroke-width="1.45"/>
<rect x="169" y="26.2" width="5.2" height="5.2" fill="#fff" stroke="#0000ff" stroke-width="1.45"/>
<rect x="178.2" y="35.7" width="5.2" height="5.2" fill="#fff" stroke="#0000ff" stroke-width="1.45"/>
<rect x="185.3" y="47.9" width="5.2" height="5.2" fill="#fff" stroke="#0000ff" stroke-width="1.45"/>
<rect x="195.2" y="73.2" width="5.2" height="5.2" fill="#fff" stroke="#0000ff" stroke-width="1.45"/>
<rect x="214.6" y="90.2" width="5.2" height="5.2" fill="#fff" stroke="#0000ff" stroke-width="1.45"/>
<rect x="222.8" y="94.2" width="5.2" height="5.2" fill="#fff" stroke="#0000ff" stroke-width="1.45"/>
<rect x="234" y="99" width="5.2" height="5.2" fill="#fff" stroke="#0000ff" stroke-width="1.45"/>
<rect x="244.6" y="104.6" width="5.2" height="5.2" fill="#fff" stroke="#0000ff" stroke-width="1.45"/>
<rect x="255.6" y="109.4" width="5.2" height="5.2" fill="#fff" stroke="#0000ff" stroke-width="1.45"/>
<rect x="266.1" y="114" width="5.2" height="5.2" fill="#fff" stroke="#0000ff" stroke-width="1.45"/>
<line x1="55.1" y1="56.1" x2="290" y2="56.1" stroke="#000" stroke-width="1.6" stroke-dasharray="7.4 7"/>
<line x1="59.4" y1="24" x2="182.5" y2="24" stroke="#000" stroke-width="1.6" stroke-dasharray="7.4 7"/>
<line x1="65.2" y1="55" x2="65.2" y2="28" stroke="#000" stroke-width="1.8"/>
<path d="M62.5 29.2 L65.2 22.4 L67.9 29.2 Z" fill="#000"/>
<line x1="273.9" y1="55.8" x2="273.9" y2="92" stroke="#0c0c9e" stroke-width="1.8"/>
<path d="M271.5 91 L273.9 97 L276.3 91 Z" fill="#0c0c9e"/>
<line x1="278.5" y1="55.8" x2="278.5" y2="101.4" stroke="#108a8a" stroke-width="1.8"/>
<path d="M276.2 100.4 L278.5 106.9 L280.8 100.4 Z" fill="#108a8a"/>
<line x1="280.8" y1="55.8" x2="280.8" y2="108.8" stroke="#0000ff" stroke-width="1.8"/>
<path d="M278.7 107.8 L280.8 114.6 L282.9 107.8 Z" fill="#0000ff"/>
<line x1="283.8" y1="55" x2="283.8" y2="160.3" stroke="#8b0000" stroke-width="1.8"/>
<path d="M281.1 159.3 L283.8 165.9 L286.5 159.3 Z" fill="#8b0000"/>
<line x1="286.9" y1="56.4" x2="286.9" y2="191.9" stroke="#000000" stroke-width="1.8"/>
<path d="M283.9 190.9 L286.9 198.9 L289.9 190.9 Z" fill="#000000"/>
<line x1="277.3" y1="49.6" x2="284.6" y2="49.6" stroke="#ff7f00" stroke-width="1.4"/>
<line x1="277.4" y1="49.2" x2="277.4" y2="55.3" stroke="#ff7f00" stroke-width="1.2"/>
<path d="M275.1 55.4 L277.4 50.2 L279.6 55.4 Z" fill="#ff7f00"/>
<line x1="63.2" y1="73.1" x2="70.5" y2="73.1" stroke="#ff7f00" stroke-width="1.5"/>
<line x1="81.5" y1="73.1" x2="88.80000000000001" y2="73.1" stroke="#ff7f00" stroke-width="1.5"/>
<circle cx="76" cy="73.1" r="3.3" fill="#fff" stroke="#ff7f00" stroke-width="1.6"/><circle cx="76" cy="73.1" r="0.7" fill="#ff7f00"/>
<text x="95.7" y="77.4" font-size="10.4" text-anchor="start" font-weight="normal" fill="#1a1a1a" textLength="56.5" lengthAdjust="spacingAndGlyphs">QO-NCM45</text>
<line x1="63.2" y1="86.4" x2="70.5" y2="86.4" stroke="#ff0000" stroke-width="1.5"/>
<line x1="81.5" y1="86.4" x2="88.80000000000001" y2="86.4" stroke="#ff0000" stroke-width="1.5"/>
<path d="M76 89.81L80.29 82.99L71.71 82.99Z" fill="#fff" stroke="#ff0000" stroke-width="1.4" stroke-linejoin="miter"/><circle cx="76" cy="85.6" r="0.7" fill="#ff0000"/>
<text x="95.7" y="90.7" font-size="10.4" text-anchor="start" font-weight="normal" fill="#1a1a1a" textLength="56.5" lengthAdjust="spacingAndGlyphs">QO-NCM50</text>
<line x1="63.2" y1="99.7" x2="70.5" y2="99.7" stroke="#8000ff" stroke-width="1.5"/>
<line x1="81.5" y1="99.7" x2="88.80000000000001" y2="99.7" stroke="#8000ff" stroke-width="1.5"/>
<rect x="73.19" y="96.89" width="5.63" height="5.63" fill="#fff" stroke="#8000ff" stroke-width="1.4"/><rect x="75.2" y="98.9" width="1.6" height="1.6" fill="#8000ff"/>
<text x="95.7" y="104" font-size="10.4" text-anchor="start" font-weight="normal" fill="#1a1a1a" textLength="49.5" lengthAdjust="spacingAndGlyphs">QO-NM60</text>
<line x1="63.2" y1="124.7" x2="70.5" y2="124.7" stroke="#0c0c9e" stroke-width="1.5"/>
<line x1="81.5" y1="124.7" x2="88.80000000000001" y2="124.7" stroke="#0c0c9e" stroke-width="1.5"/>
<rect x="73.61" y="122.31" width="4.78" height="4.78" fill="#fff" stroke="#0c0c9e" stroke-width="1.45"/>
<text x="95.7" y="129" font-size="10.4" text-anchor="start" font-weight="normal" fill="#1a1a1a" textLength="37.8" lengthAdjust="spacingAndGlyphs">NCM50</text>
<line x1="63.2" y1="138" x2="70.5" y2="138" stroke="#108a8a" stroke-width="1.5"/>
<line x1="81.5" y1="138" x2="88.80000000000001" y2="138" stroke="#108a8a" stroke-width="1.5"/>
<path d="M76 134.24L79.76 138L76 141.76L72.24 138Z" fill="#fff" stroke="#108a8a" stroke-width="1.4"/>
<text x="95.7" y="142.3" font-size="10.4" text-anchor="start" font-weight="normal" fill="#1a1a1a" textLength="37.8" lengthAdjust="spacingAndGlyphs">NCM60</text>
<line x1="63.2" y1="151.3" x2="70.5" y2="151.3" stroke="#0000ff" stroke-width="1.5"/>
<line x1="81.5" y1="151.3" x2="88.80000000000001" y2="151.3" stroke="#0000ff" stroke-width="1.5"/>
<rect x="73.61" y="148.91" width="4.78" height="4.78" fill="#fff" stroke="#0000ff" stroke-width="1.45"/>
<text x="95.7" y="155.6" font-size="10.4" text-anchor="start" font-weight="normal" fill="#1a1a1a" textLength="37.8" lengthAdjust="spacingAndGlyphs">NCM80</text>
<line x1="63.2" y1="164.8" x2="70.5" y2="164.8" stroke="#8b0000" stroke-width="1.5"/>
<line x1="81.5" y1="164.8" x2="88.80000000000001" y2="164.8" stroke="#8b0000" stroke-width="1.5"/>
<path d="M76 161.74L79.78 167.86L72.22 167.86Z" fill="#fff" stroke="#8b0000" stroke-width="1.4" stroke-linejoin="miter"/>
<text x="95.7" y="169.1" font-size="10.4" text-anchor="start" font-weight="normal" fill="#1a1a1a" textLength="37.8" lengthAdjust="spacingAndGlyphs">NCM90</text>
<line x1="63.2" y1="178" x2="70.5" y2="178" stroke="#8b0000" stroke-width="1.5"/>
<line x1="81.5" y1="178" x2="88.80000000000001" y2="178" stroke="#8b0000" stroke-width="1.5"/>
<path d="M76 174.2L80.56 181.8L71.44 181.8Z" fill="#8b0000" stroke="#8b0000" stroke-width="0.6"/>
<text x="95.7" y="182.3" font-size="10.4" text-anchor="start" font-weight="normal" fill="#1a1a1a" textLength="55.5" lengthAdjust="spacingAndGlyphs">NCM90_H3</text>
<line x1="63.2" y1="191.5" x2="70.5" y2="191.5" stroke="#000000" stroke-width="1.5"/>
<line x1="81.5" y1="191.5" x2="88.80000000000001" y2="191.5" stroke="#000000" stroke-width="1.5"/>
<rect x="73.14" y="188.64" width="5.72" height="5.72" fill="#fff" stroke="#000000" stroke-width="1.45"/>
<text x="95.7" y="195.8" font-size="10.4" text-anchor="start" font-weight="normal" fill="#1a1a1a" textLength="21.8" lengthAdjust="spacingAndGlyphs">LNO</text>
<line x1="63.2" y1="204.9" x2="70.5" y2="204.9" stroke="#000000" stroke-width="1.5"/>
<line x1="81.5" y1="204.9" x2="88.80000000000001" y2="204.9" stroke="#000000" stroke-width="1.5"/>
<rect x="72.8" y="201.7" width="6.4" height="6.4" fill="#000000" stroke="#000000" stroke-width="0.6"/>
<text x="95.7" y="209.2" font-size="10.4" text-anchor="start" font-weight="normal" fill="#1a1a1a" textLength="39.5" lengthAdjust="spacingAndGlyphs">LNO_H3</text>
<text x="295" y="36.8" font-size="10.2" text-anchor="start" font-weight="normal" fill="#1a1a1a" textLength="53.6" lengthAdjust="spacingAndGlyphs">Δc = +0.4%</text>
<text x="295" y="50.2" font-size="10.2" text-anchor="start" font-weight="normal" fill="#1a1a1a" textLength="53.6" lengthAdjust="spacingAndGlyphs">Δc = +0.3%</text>
<text x="295" y="63.5" font-size="10.2" text-anchor="start" font-weight="normal" fill="#1a1a1a" textLength="53.6" lengthAdjust="spacingAndGlyphs">Δc = +0.2%</text>
<text x="295" y="102.4" font-size="10.2" text-anchor="start" font-weight="normal" fill="#1a1a1a" textLength="50.8" lengthAdjust="spacingAndGlyphs">Δc = –1.9%</text>
<text x="295" y="115.8" font-size="10.2" text-anchor="start" font-weight="normal" fill="#1a1a1a" textLength="50.8" lengthAdjust="spacingAndGlyphs">Δc = –2.4%</text>
<text x="295" y="129.3" font-size="10.2" text-anchor="start" font-weight="normal" fill="#1a1a1a" textLength="50.8" lengthAdjust="spacingAndGlyphs">Δc = –2.8%</text>
<text x="295" y="171.4" font-size="10.2" text-anchor="start" font-weight="normal" fill="#1a1a1a" textLength="50.8" lengthAdjust="spacingAndGlyphs">Δc = –5.1%</text>
<text x="295" y="207.6" font-size="10.2" text-anchor="start" font-weight="normal" fill="#1a1a1a" textLength="50.8" lengthAdjust="spacingAndGlyphs">Δc = –6.7%</text>
<text x="367.4" y="13.2" font-size="20" text-anchor="start" font-weight="bold" fill="#000">b</text>
<line x1="420.5" y1="23.36" x2="424.6" y2="23.36" stroke="#7a7a7a" stroke-width="1.1"/>
<text x="414.6" y="28.06" font-size="10.6" text-anchor="end" font-weight="normal" fill="#1a1a1a">9</text>
<line x1="420.5" y1="53.84" x2="424.6" y2="53.84" stroke="#7a7a7a" stroke-width="1.1"/>
<text x="414.6" y="58.54" font-size="10.6" text-anchor="end" font-weight="normal" fill="#1a1a1a">6</text>
<line x1="420.5" y1="84.32" x2="424.6" y2="84.32" stroke="#7a7a7a" stroke-width="1.1"/>
<text x="414.6" y="89.02" font-size="10.6" text-anchor="end" font-weight="normal" fill="#1a1a1a">3</text>
<line x1="420.5" y1="114.8" x2="424.6" y2="114.8" stroke="#7a7a7a" stroke-width="1.1"/>
<text x="414.6" y="119.5" font-size="10.6" text-anchor="end" font-weight="normal" fill="#1a1a1a">0</text>
<line x1="420.5" y1="145.28" x2="424.6" y2="145.28" stroke="#7a7a7a" stroke-width="1.1"/>
<text x="414.6" y="149.98" font-size="10.6" text-anchor="end" font-weight="normal" fill="#1a1a1a">−3</text>
<line x1="420.5" y1="175.76" x2="424.6" y2="175.76" stroke="#7a7a7a" stroke-width="1.1"/>
<text x="414.6" y="180.46" font-size="10.6" text-anchor="end" font-weight="normal" fill="#1a1a1a">−6</text>
<line x1="420.5" y1="206.24" x2="424.6" y2="206.24" stroke="#7a7a7a" stroke-width="1.1"/>
<text x="414.6" y="210.94" font-size="10.6" text-anchor="end" font-weight="normal" fill="#1a1a1a">−9</text>
<text x="420.5" y="229.9" font-size="10.5" text-anchor="middle" font-weight="normal" fill="#1a1a1a" textLength="15.6" lengthAdjust="spacingAndGlyphs">3.6</text>
<line x1="468.5" y1="216.3" x2="468.5" y2="212.20000000000002" stroke="#7a7a7a" stroke-width="1.1"/>
<text x="468.5" y="229.9" font-size="10.5" text-anchor="middle" font-weight="normal" fill="#1a1a1a" textLength="15.6" lengthAdjust="spacingAndGlyphs">3.8</text>
<line x1="516.5" y1="216.3" x2="516.5" y2="212.20000000000002" stroke="#7a7a7a" stroke-width="1.1"/>
<text x="516.5" y="229.9" font-size="10.5" text-anchor="middle" font-weight="normal" fill="#1a1a1a" textLength="15.6" lengthAdjust="spacingAndGlyphs">4.0</text>
<line x1="564.5" y1="216.3" x2="564.5" y2="212.20000000000002" stroke="#7a7a7a" stroke-width="1.1"/>
<text x="564.5" y="229.9" font-size="10.5" text-anchor="middle" font-weight="normal" fill="#1a1a1a" textLength="15.6" lengthAdjust="spacingAndGlyphs">4.2</text>
<line x1="612.5" y1="216.3" x2="612.5" y2="212.20000000000002" stroke="#7a7a7a" stroke-width="1.1"/>
<text x="612.5" y="229.9" font-size="10.5" text-anchor="middle" font-weight="normal" fill="#1a1a1a" textLength="15.6" lengthAdjust="spacingAndGlyphs">4.4</text>
<line x1="660.5" y1="216.3" x2="660.5" y2="212.20000000000002" stroke="#7a7a7a" stroke-width="1.1"/>
<text x="660.5" y="229.9" font-size="10.5" text-anchor="middle" font-weight="normal" fill="#1a1a1a" textLength="15.6" lengthAdjust="spacingAndGlyphs">4.6</text>
<text x="480.8" y="248.1" font-size="12.2" text-anchor="start" font-weight="normal" fill="#1a1a1a" textLength="144.5" lengthAdjust="spacingAndGlyphs">Voltage (V) (versus Li/Li<tspan font-size="6.2" dy="-5.6">+</tspan><tspan dy="5.6">)</tspan></text>
<g transform="translate(378.9,115) rotate(-90)"><text x="0" y="0" font-size="12.2" text-anchor="middle" fill="#1a1a1a" textLength="92.5" lengthAdjust="spacingAndGlyphs">Anisotropy ratio</text></g>
<g transform="translate(393.9,115) rotate(-90)"><text x="0" y="0" font-size="12.2" text-anchor="middle" fill="#1a1a1a" textLength="94" lengthAdjust="spacingAndGlyphs">((Δa/a<tspan font-size="8" dy="2.5">0</tspan><tspan dy="-2.5">)/(Δc/c</tspan><tspan font-size="8" dy="2.5">0</tspan><tspan dy="-2.5">))</tspan></text></g>
<rect x="420.5" y="13.3" width="263.70000000000005" height="203.0" fill="none" stroke="#6a6a6a" stroke-width="1.2"/>
<path d="M500.66 125.74L501.15 125.76M509.54 126.21L511.13 126.29M519.51 126.79L521.12 126.91M529.49 127.54L531.1 127.66M539.44 128.62L541.12 128.88M549.17 131.05L552.68 132.45M556.64 129.8L557.74 56.2M557.84 56.2L558.31 101.3M566.44 110.84L568.24 110.86M576.64 111.04L614.6 112.26M622.99 112.61L632.24 113.09" fill="none" stroke="#000000" stroke-width="1.3" stroke-linecap="butt"/>
<rect x="445.58" y="122.8" width="6.4" height="6.4" fill="#000000" stroke="#000000" stroke-width="0.6"/>
<rect x="451.68" y="122.3" width="6.4" height="6.4" fill="#000000" stroke="#000000" stroke-width="0.6"/>
<rect x="457.78" y="122" width="6.4" height="6.4" fill="#000000" stroke="#000000" stroke-width="0.6"/>
<rect x="463.88" y="121.8" width="6.4" height="6.4" fill="#000000" stroke="#000000" stroke-width="0.6"/>
<rect x="470.53" y="121.8" width="6.4" height="6.4" fill="#000000" stroke="#000000" stroke-width="0.6"/>
<rect x="477.74" y="121.8" width="6.4" height="6.4" fill="#000000" stroke="#000000" stroke-width="0.6"/>
<rect x="485.51" y="122" width="6.4" height="6.4" fill="#000000" stroke="#000000" stroke-width="0.6"/>
<rect x="493.27" y="122.3" width="6.4" height="6.4" fill="#000000" stroke="#000000" stroke-width="0.6"/>
<rect x="502.14" y="122.8" width="6.4" height="6.4" fill="#000000" stroke="#000000" stroke-width="0.6"/>
<rect x="512.12" y="123.3" width="6.4" height="6.4" fill="#000000" stroke="#000000" stroke-width="0.6"/>
<rect x="522.11" y="124" width="6.4" height="6.4" fill="#000000" stroke="#000000" stroke-width="0.6"/>
<rect x="532.09" y="124.8" width="6.4" height="6.4" fill="#000000" stroke="#000000" stroke-width="0.6"/>
<rect x="542.07" y="126.3" width="6.4" height="6.4" fill="#000000" stroke="#000000" stroke-width="0.6"/>
<rect x="553.38" y="130.8" width="6.4" height="6.4" fill="#000000" stroke="#000000" stroke-width="0.6"/>
<rect x="554.6" y="48.8" width="6.4" height="6.4" fill="#000000" stroke="#000000" stroke-width="0.6"/>
<rect x="555.16" y="102.3" width="6.4" height="6.4" fill="#000000" stroke="#000000" stroke-width="0.6"/>
<rect x="555.16" y="103.3" width="6.4" height="6.4" fill="#000000" stroke="#000000" stroke-width="0.6"/>
<rect x="555.93" y="105.3" width="6.4" height="6.4" fill="#000000" stroke="#000000" stroke-width="0.6"/>
<rect x="556.93" y="106.8" width="6.4" height="6.4" fill="#000000" stroke="#000000" stroke-width="0.6"/>
<rect x="559.04" y="107.6" width="6.4" height="6.4" fill="#000000" stroke="#000000" stroke-width="0.6"/>
<rect x="569.24" y="107.7" width="6.4" height="6.4" fill="#000000" stroke="#000000" stroke-width="0.6"/>
<rect x="615.6" y="109.2" width="6.4" height="6.4" fill="#000000" stroke="#000000" stroke-width="0.6"/>
<rect x="633.23" y="110.1" width="6.4" height="6.4" fill="#000000" stroke="#000000" stroke-width="0.6"/>
<path d="M501.14 127.48L504.44 127.62M512.23 128.05L515.31 128.25M523.06 129.12L526.56 129.68M534.27 130.83L541.96 131.87M549.37 134.02L550.15 134.38M553.81 139.9L555.47 199.7" fill="none" stroke="#000000" stroke-width="1.3" stroke-linecap="butt"/>
<rect x="445.07" y="124.4" width="5.2" height="5.2" fill="#fff" stroke="#000000" stroke-width="1.45"/>
<rect x="450.62" y="123.9" width="5.2" height="5.2" fill="#fff" stroke="#000000" stroke-width="1.45"/>
<rect x="456.16" y="123.6" width="5.2" height="5.2" fill="#fff" stroke="#000000" stroke-width="1.45"/>
<rect x="461.71" y="123.4" width="5.2" height="5.2" fill="#fff" stroke="#000000" stroke-width="1.45"/>
<rect x="467.81" y="123.4" width="5.2" height="5.2" fill="#fff" stroke="#000000" stroke-width="1.45"/>
<rect x="474.46" y="123.7" width="5.2" height="5.2" fill="#fff" stroke="#000000" stroke-width="1.45"/>
<rect x="481.67" y="124.2" width="5.2" height="5.2" fill="#fff" stroke="#000000" stroke-width="1.45"/>
<rect x="488.33" y="124.5" width="5.2" height="5.2" fill="#fff" stroke="#000000" stroke-width="1.45"/>
<rect x="494.65" y="124.7" width="5.2" height="5.2" fill="#fff" stroke="#000000" stroke-width="1.45"/>
<rect x="505.74" y="125.2" width="5.2" height="5.2" fill="#fff" stroke="#000000" stroke-width="1.45"/>
<rect x="516.61" y="125.9" width="5.2" height="5.2" fill="#fff" stroke="#000000" stroke-width="1.45"/>
<rect x="527.81" y="127.7" width="5.2" height="5.2" fill="#fff" stroke="#000000" stroke-width="1.45"/>
<rect x="543.22" y="129.8" width="5.2" height="5.2" fill="#fff" stroke="#000000" stroke-width="1.45"/>
<rect x="551.1" y="133.4" width="5.2" height="5.2" fill="#fff" stroke="#000000" stroke-width="1.45"/>
<rect x="552.98" y="201" width="5.2" height="5.2" fill="#fff" stroke="#000000" stroke-width="1.45"/>
<path d="M534.74 125.68L535.28 125.82M543.96 128.8L544.92 129.2M552.9 133.66L553.16 133.84M557.4 141.07L562.09 185.43M562.66 185.4L565.03 63.7M565.64 63.67L569.37 96.43M574.07 102.92L577.24 104.38M586.02 106.54L601.23 107.36M610.42 107.87L631.84 109.13M641.03 109.44L655.68 109.56" fill="none" stroke="#8b0000" stroke-width="1.3" stroke-linecap="butt"/>
<path d="M447.12 119.5L451.92 127.5L442.32 127.5Z" fill="#8b0000" stroke="#8b0000" stroke-width="0.6"/>
<path d="M452.11 119L456.91 127L447.31 127Z" fill="#8b0000" stroke="#8b0000" stroke-width="0.6"/>
<path d="M457.1 118.8L461.9 126.8L452.3 126.8Z" fill="#8b0000" stroke="#8b0000" stroke-width="0.6"/>
<path d="M462.09 118.6L466.89 126.6L457.29 126.6Z" fill="#8b0000" stroke="#8b0000" stroke-width="0.6"/>
<path d="M467.63 118.5L472.43 126.5L462.83 126.5Z" fill="#8b0000" stroke="#8b0000" stroke-width="0.6"/>
<path d="M473.73 118.4L478.53 126.4L468.93 126.4Z" fill="#8b0000" stroke="#8b0000" stroke-width="0.6"/>
<path d="M480.39 118.4L485.19 126.4L475.59 126.4Z" fill="#8b0000" stroke="#8b0000" stroke-width="0.6"/>
<path d="M487.6 118.5L492.4 126.5L482.8 126.5Z" fill="#8b0000" stroke="#8b0000" stroke-width="0.6"/>
<path d="M495.36 118.6L500.16 126.6L490.56 126.6Z" fill="#8b0000" stroke="#8b0000" stroke-width="0.6"/>
<path d="M503.68 118.8L508.48 126.8L498.88 126.8Z" fill="#8b0000" stroke="#8b0000" stroke-width="0.6"/>
<path d="M512 119L516.8 127L507.2 127Z" fill="#8b0000" stroke="#8b0000" stroke-width="0.6"/>
<path d="M520.87 119.4L525.67 127.4L516.07 127.4Z" fill="#8b0000" stroke="#8b0000" stroke-width="0.6"/>
<path d="M530.3 120.5L535.1 128.5L525.5 128.5Z" fill="#8b0000" stroke="#8b0000" stroke-width="0.6"/>
<path d="M539.72 123L544.52 131L534.92 131Z" fill="#8b0000" stroke="#8b0000" stroke-width="0.6"/>
<path d="M549.15 127L553.95 135L544.35 135Z" fill="#8b0000" stroke="#8b0000" stroke-width="0.6"/>
<path d="M556.91 132.5L561.71 140.5L552.11 140.5Z" fill="#8b0000" stroke="#8b0000" stroke-width="0.6"/>
<path d="M562.57 186L567.37 194L557.77 194Z" fill="#8b0000" stroke="#8b0000" stroke-width="0.6"/>
<path d="M565.12 55.1L569.92 63.1L560.32 63.1Z" fill="#8b0000" stroke="#8b0000" stroke-width="0.6"/>
<path d="M569.89 97L574.69 105L565.09 105Z" fill="#8b0000" stroke="#8b0000" stroke-width="0.6"/>
<path d="M581.42 102.3L586.22 110.3L576.62 110.3Z" fill="#8b0000" stroke="#8b0000" stroke-width="0.6"/>
<path d="M605.82 103.6L610.62 111.6L601.02 111.6Z" fill="#8b0000" stroke="#8b0000" stroke-width="0.6"/>
<path d="M636.43 105.4L641.23 113.4L631.63 113.4Z" fill="#8b0000" stroke="#8b0000" stroke-width="0.6"/>
<path d="M660.28 105.6L665.08 113.6L655.48 113.6Z" fill="#8b0000" stroke="#8b0000" stroke-width="0.6"/>
<path d="M541.47 129.16L543.08 129.84M550.78 133.62L553.17 134.98M557.37 141.38L562.23 187.22" fill="none" stroke="#8b0000" stroke-width="1.3" stroke-linecap="butt"/>
<path d="M446.01 119.6L450.21 126.4L441.81 126.4Z" fill="#fff" stroke="#8b0000" stroke-width="1.4" stroke-linejoin="miter"/>
<path d="M451 119.4L455.2 126.2L446.8 126.2Z" fill="#fff" stroke="#8b0000" stroke-width="1.4" stroke-linejoin="miter"/>
<path d="M455.99 119.2L460.19 126L451.79 126Z" fill="#fff" stroke="#8b0000" stroke-width="1.4" stroke-linejoin="miter"/>
<path d="M460.98 119.1L465.18 125.9L456.78 125.9Z" fill="#fff" stroke="#8b0000" stroke-width="1.4" stroke-linejoin="miter"/>
<path d="M466.53 119.1L470.73 125.9L462.33 125.9Z" fill="#fff" stroke="#8b0000" stroke-width="1.4" stroke-linejoin="miter"/>
<path d="M472.63 119.1L476.83 125.9L468.43 125.9Z" fill="#fff" stroke="#8b0000" stroke-width="1.4" stroke-linejoin="miter"/>
<path d="M478.73 119.1L482.93 125.9L474.53 125.9Z" fill="#fff" stroke="#8b0000" stroke-width="1.4" stroke-linejoin="miter"/>
<path d="M484.27 119.1L488.47 125.9L480.07 125.9Z" fill="#fff" stroke="#8b0000" stroke-width="1.4" stroke-linejoin="miter"/>
<path d="M490.15 119.1L494.35 125.9L485.95 125.9Z" fill="#fff" stroke="#8b0000" stroke-width="1.4" stroke-linejoin="miter"/>
<path d="M497.47 119.2L501.67 126L493.27 126Z" fill="#fff" stroke="#8b0000" stroke-width="1.4" stroke-linejoin="miter"/>
<path d="M506.34 119.4L510.54 126.2L502.14 126.2Z" fill="#fff" stroke="#8b0000" stroke-width="1.4" stroke-linejoin="miter"/>
<path d="M513.66 119.8L517.86 126.6L509.46 126.6Z" fill="#fff" stroke="#8b0000" stroke-width="1.4" stroke-linejoin="miter"/>
<path d="M520.87 120.4L525.07 127.2L516.67 127.2Z" fill="#fff" stroke="#8b0000" stroke-width="1.4" stroke-linejoin="miter"/>
<path d="M529.19 121.6L533.39 128.4L524.99 128.4Z" fill="#fff" stroke="#8b0000" stroke-width="1.4" stroke-linejoin="miter"/>
<path d="M537.51 124.1L541.71 130.9L533.31 130.9Z" fill="#fff" stroke="#8b0000" stroke-width="1.4" stroke-linejoin="miter"/>
<path d="M547.04 128.1L551.24 134.9L542.84 134.9Z" fill="#fff" stroke="#8b0000" stroke-width="1.4" stroke-linejoin="miter"/>
<path d="M556.91 133.7L561.11 140.5L552.71 140.5Z" fill="#fff" stroke="#8b0000" stroke-width="1.4" stroke-linejoin="miter"/>
<path d="M562.68 188.1L566.88 194.9L558.48 194.9Z" fill="#fff" stroke="#8b0000" stroke-width="1.4" stroke-linejoin="miter"/>
<path d="M500.16 123.4L500.54 123.4M510.14 123.64L511.08 123.66M520.67 124.03L521.62 124.07M531.2 124.69L532.72 124.81M542.24 125.97L543.86 126.23M553.23 128.25L555.05 128.75M564.38 131L566.3 131.4M585.82 148.78L591.78 174.92M593.19 174.81L602.04 51.99M603.73 51.81L611.25 77.69M615.59 86.05L621.68 93.65M629.21 98.99L632.13 100.01M641.18 103.2L644 104.2M653.29 106.34L656.06 106.66" fill="none" stroke="#108a8a" stroke-width="1.3" stroke-linecap="butt"/>
<path d="M446.56 118.5L450.56 122.5L446.56 126.5L442.56 122.5Z" fill="#fff" stroke="#108a8a" stroke-width="1.4"/>
<path d="M452.11 119L456.11 123L452.11 127L448.11 123Z" fill="#fff" stroke="#108a8a" stroke-width="1.4"/>
<path d="M457.65 119.2L461.65 123.2L457.65 127.2L453.65 123.2Z" fill="#fff" stroke="#108a8a" stroke-width="1.4"/>
<path d="M463.75 119.3L467.75 123.3L463.75 127.3L459.75 123.3Z" fill="#fff" stroke="#108a8a" stroke-width="1.4"/>
<path d="M470.41 119.3L474.41 123.3L470.41 127.3L466.41 123.3Z" fill="#fff" stroke="#108a8a" stroke-width="1.4"/>
<path d="M477.62 119.2L481.62 123.2L477.62 127.2L473.62 123.2Z" fill="#fff" stroke="#108a8a" stroke-width="1.4"/>
<path d="M485.93 119.2L489.93 123.2L485.93 127.2L481.93 123.2Z" fill="#fff" stroke="#108a8a" stroke-width="1.4"/>
<path d="M495.36 119.3L499.36 123.3L495.36 127.3L491.36 123.3Z" fill="#fff" stroke="#108a8a" stroke-width="1.4"/>
<path d="M505.34 119.5L509.34 123.5L505.34 127.5L501.34 123.5Z" fill="#fff" stroke="#108a8a" stroke-width="1.4"/>
<path d="M515.88 119.8L519.88 123.8L515.88 127.8L511.88 123.8Z" fill="#fff" stroke="#108a8a" stroke-width="1.4"/>
<path d="M526.41 120.3L530.41 124.3L526.41 128.3L522.41 124.3Z" fill="#fff" stroke="#108a8a" stroke-width="1.4"/>
<path d="M537.51 121.2L541.51 125.2L537.51 129.2L533.51 125.2Z" fill="#fff" stroke="#108a8a" stroke-width="1.4"/>
<path d="M548.6 123L552.6 127L548.6 131L544.6 127Z" fill="#fff" stroke="#108a8a" stroke-width="1.4"/>
<path d="M559.69 126L563.69 130L559.69 134L555.69 130Z" fill="#fff" stroke="#108a8a" stroke-width="1.4"/>
<path d="M571 128.4L575 132.4L571 136.4L567 132.4Z" fill="#fff" stroke="#108a8a" stroke-width="1.4"/>
<path d="M578.21 134.8L582.21 138.8L578.21 142.8L574.21 138.8Z" fill="#fff" stroke="#108a8a" stroke-width="1.4"/>
<path d="M584.75 140.1L588.75 144.1L584.75 148.1L580.75 144.1Z" fill="#fff" stroke="#108a8a" stroke-width="1.4"/>
<path d="M592.85 175.6L596.85 179.6L592.85 183.6L588.85 179.6Z" fill="#fff" stroke="#108a8a" stroke-width="1.4"/>
<path d="M602.39 43.2L606.39 47.2L602.39 51.2L598.39 47.2Z" fill="#fff" stroke="#108a8a" stroke-width="1.4"/>
<path d="M612.59 78.3L616.59 82.3L612.59 86.3L608.59 82.3Z" fill="#fff" stroke="#108a8a" stroke-width="1.4"/>
<path d="M624.68 93.4L628.68 97.4L624.68 101.4L620.68 97.4Z" fill="#fff" stroke="#108a8a" stroke-width="1.4"/>
<path d="M636.66 97.6L640.66 101.6L636.66 105.6L632.66 101.6Z" fill="#fff" stroke="#108a8a" stroke-width="1.4"/>
<path d="M648.52 101.8L652.52 105.8L648.52 109.8L644.52 105.8Z" fill="#fff" stroke="#108a8a" stroke-width="1.4"/>
<path d="M660.83 103.2L664.83 107.2L660.83 111.2L656.83 107.2Z" fill="#fff" stroke="#108a8a" stroke-width="1.4"/>
<path d="M490.94 123.43L492.02 123.47M499.81 123.77L501.45 123.83M509.24 124.18L511.98 124.32M519.77 124.76L522.52 124.94M530.3 125.55L533.62 125.85M541.38 126.64L545.83 127.16M553.58 128.03L558.58 128.57M566.34 129.4L571.11 129.9M578.66 131.62L582.19 132.88M589.22 136.18L593.7 138.82M598.04 144.58L607.62 181.52M608.96 181.42L620.88 53.18M622.35 53.04L633.43 90.16M637.85 95.97L644.66 100.23M651.75 103.25L656.5 104.45" fill="none" stroke="#0c0c9e" stroke-width="1.3" stroke-linecap="butt"/>
<rect x="443.41" y="118.9" width="5.2" height="5.2" fill="#fff" stroke="#0c0c9e" stroke-width="1.45"/>
<rect x="448.4" y="119.4" width="5.2" height="5.2" fill="#fff" stroke="#0c0c9e" stroke-width="1.45"/>
<rect x="453.39" y="119.7" width="5.2" height="5.2" fill="#fff" stroke="#0c0c9e" stroke-width="1.45"/>
<rect x="458.38" y="119.9" width="5.2" height="5.2" fill="#fff" stroke="#0c0c9e" stroke-width="1.45"/>
<rect x="463.93" y="120" width="5.2" height="5.2" fill="#fff" stroke="#0c0c9e" stroke-width="1.45"/>
<rect x="470.03" y="120.2" width="5.2" height="5.2" fill="#fff" stroke="#0c0c9e" stroke-width="1.45"/>
<rect x="476.68" y="120.4" width="5.2" height="5.2" fill="#fff" stroke="#0c0c9e" stroke-width="1.45"/>
<rect x="484.44" y="120.7" width="5.2" height="5.2" fill="#fff" stroke="#0c0c9e" stroke-width="1.45"/>
<rect x="493.32" y="121" width="5.2" height="5.2" fill="#fff" stroke="#0c0c9e" stroke-width="1.45"/>
<rect x="502.74" y="121.4" width="5.2" height="5.2" fill="#fff" stroke="#0c0c9e" stroke-width="1.45"/>
<rect x="513.28" y="121.9" width="5.2" height="5.2" fill="#fff" stroke="#0c0c9e" stroke-width="1.45"/>
<rect x="523.81" y="122.6" width="5.2" height="5.2" fill="#fff" stroke="#0c0c9e" stroke-width="1.45"/>
<rect x="534.91" y="123.6" width="5.2" height="5.2" fill="#fff" stroke="#0c0c9e" stroke-width="1.45"/>
<rect x="547.11" y="125" width="5.2" height="5.2" fill="#fff" stroke="#0c0c9e" stroke-width="1.45"/>
<rect x="559.86" y="126.4" width="5.2" height="5.2" fill="#fff" stroke="#0c0c9e" stroke-width="1.45"/>
<rect x="572.39" y="127.7" width="5.2" height="5.2" fill="#fff" stroke="#0c0c9e" stroke-width="1.45"/>
<rect x="583.26" y="131.6" width="5.2" height="5.2" fill="#fff" stroke="#0c0c9e" stroke-width="1.45"/>
<rect x="594.46" y="138.2" width="5.2" height="5.2" fill="#fff" stroke="#0c0c9e" stroke-width="1.45"/>
<rect x="606" y="182.7" width="5.2" height="5.2" fill="#fff" stroke="#0c0c9e" stroke-width="1.45"/>
<rect x="618.64" y="46.7" width="5.2" height="5.2" fill="#fff" stroke="#0c0c9e" stroke-width="1.45"/>
<rect x="631.95" y="91.3" width="5.2" height="5.2" fill="#fff" stroke="#0c0c9e" stroke-width="1.45"/>
<rect x="645.37" y="99.7" width="5.2" height="5.2" fill="#fff" stroke="#0c0c9e" stroke-width="1.45"/>
<rect x="657.68" y="102.8" width="5.2" height="5.2" fill="#fff" stroke="#0c0c9e" stroke-width="1.45"/>
<path d="M534.34 126.68L535.13 126.65M544.32 126.44L545.11 126.43M554.3 126.47L555.09 126.49M616.84 133.37L618.76 133.83M627.63 136.25L628.27 136.45M636.81 139.79L637.28 140.01M643.74 145.98L648.43 154.02M654.1 161.14L657.03 163.86" fill="none" stroke="#ff0000" stroke-width="1.3" stroke-linecap="butt"/>
<path d="M450.44 135.68L454.34 129.48L446.54 129.48Z" fill="#fff" stroke="#ff0000" stroke-width="1.4" stroke-linejoin="miter"/><circle cx="450.44" cy="131.78" r="0.7" fill="#ff0000"/>
<path d="M456.54 135.4L460.44 129.2L452.64 129.2Z" fill="#fff" stroke="#ff0000" stroke-width="1.4" stroke-linejoin="miter"/><circle cx="456.54" cy="131.5" r="0.7" fill="#ff0000"/>
<path d="M462.64 135.13L466.54 128.93L458.74 128.93Z" fill="#fff" stroke="#ff0000" stroke-width="1.4" stroke-linejoin="miter"/><circle cx="462.64" cy="131.23" r="0.7" fill="#ff0000"/>
<path d="M468.74 134.86L472.64 128.66L464.84 128.66Z" fill="#fff" stroke="#ff0000" stroke-width="1.4" stroke-linejoin="miter"/><circle cx="468.74" cy="130.96" r="0.7" fill="#ff0000"/>
<path d="M474.84 134.32L478.74 128.12L470.94 128.12Z" fill="#fff" stroke="#ff0000" stroke-width="1.4" stroke-linejoin="miter"/><circle cx="474.84" cy="130.42" r="0.7" fill="#ff0000"/>
<path d="M481.5 133.65L485.4 127.45L477.6 127.45Z" fill="#fff" stroke="#ff0000" stroke-width="1.4" stroke-linejoin="miter"/><circle cx="481.5" cy="129.75" r="0.7" fill="#ff0000"/>
<path d="M488.15 132.98L492.05 126.78L484.25 126.78Z" fill="#fff" stroke="#ff0000" stroke-width="1.4" stroke-linejoin="miter"/><circle cx="488.15" cy="129.08" r="0.7" fill="#ff0000"/>
<path d="M495.36 132.34L499.26 126.14L491.46 126.14Z" fill="#fff" stroke="#ff0000" stroke-width="1.4" stroke-linejoin="miter"/><circle cx="495.36" cy="128.44" r="0.7" fill="#ff0000"/>
<path d="M503.12 131.68L507.02 125.48L499.22 125.48Z" fill="#fff" stroke="#ff0000" stroke-width="1.4" stroke-linejoin="miter"/><circle cx="503.12" cy="127.78" r="0.7" fill="#ff0000"/>
<path d="M511.44 130.97L515.34 124.77L507.54 124.77Z" fill="#fff" stroke="#ff0000" stroke-width="1.4" stroke-linejoin="miter"/><circle cx="511.44" cy="127.07" r="0.7" fill="#ff0000"/>
<path d="M520.32 130.46L524.22 124.26L516.42 124.26Z" fill="#fff" stroke="#ff0000" stroke-width="1.4" stroke-linejoin="miter"/><circle cx="520.32" cy="126.56" r="0.7" fill="#ff0000"/>
<path d="M529.74 129.91L533.64 123.71L525.84 123.71Z" fill="#fff" stroke="#ff0000" stroke-width="1.4" stroke-linejoin="miter"/><circle cx="529.74" cy="126.01" r="0.7" fill="#ff0000"/>
<path d="M539.72 129.62L543.62 123.42L535.82 123.42Z" fill="#fff" stroke="#ff0000" stroke-width="1.4" stroke-linejoin="miter"/><circle cx="539.72" cy="125.72" r="0.7" fill="#ff0000"/>
<path d="M549.71 129.46L553.61 123.26L545.81 123.26Z" fill="#fff" stroke="#ff0000" stroke-width="1.4" stroke-linejoin="miter"/><circle cx="549.71" cy="125.56" r="0.7" fill="#ff0000"/>
<path d="M559.69 129.69L563.59 123.49L555.79 123.49Z" fill="#fff" stroke="#ff0000" stroke-width="1.4" stroke-linejoin="miter"/><circle cx="559.69" cy="125.79" r="0.7" fill="#ff0000"/>
<path d="M569.11 129.97L573.01 123.77L565.21 123.77Z" fill="#fff" stroke="#ff0000" stroke-width="1.4" stroke-linejoin="miter"/><circle cx="569.11" cy="126.07" r="0.7" fill="#ff0000"/>
<path d="M577.99 130.29L581.89 124.09L574.09 124.09Z" fill="#fff" stroke="#ff0000" stroke-width="1.4" stroke-linejoin="miter"/><circle cx="577.99" cy="126.39" r="0.7" fill="#ff0000"/>
<path d="M586.86 130.53L590.76 124.33L582.96 124.33Z" fill="#fff" stroke="#ff0000" stroke-width="1.4" stroke-linejoin="miter"/><circle cx="586.86" cy="126.63" r="0.7" fill="#ff0000"/>
<path d="M594.95 131.2L598.85 125L591.05 125Z" fill="#fff" stroke="#ff0000" stroke-width="1.4" stroke-linejoin="miter"/><circle cx="594.95" cy="127.3" r="0.7" fill="#ff0000"/>
<path d="M603.49 133L607.39 126.8L599.59 126.8Z" fill="#fff" stroke="#ff0000" stroke-width="1.4" stroke-linejoin="miter"/><circle cx="603.49" cy="129.1" r="0.7" fill="#ff0000"/>
<path d="M612.37 135.4L616.27 129.2L608.47 129.2Z" fill="#fff" stroke="#ff0000" stroke-width="1.4" stroke-linejoin="miter"/><circle cx="612.37" cy="131.5" r="0.7" fill="#ff0000"/>
<path d="M623.24 138L627.14 131.8L619.34 131.8Z" fill="#fff" stroke="#ff0000" stroke-width="1.4" stroke-linejoin="miter"/><circle cx="623.24" cy="134.1" r="0.7" fill="#ff0000"/>
<path d="M632.66 140.9L636.56 134.7L628.76 134.7Z" fill="#fff" stroke="#ff0000" stroke-width="1.4" stroke-linejoin="miter"/><circle cx="632.66" cy="137" r="0.7" fill="#ff0000"/>
<path d="M641.42 145.1L645.32 138.9L637.52 138.9Z" fill="#fff" stroke="#ff0000" stroke-width="1.4" stroke-linejoin="miter"/><circle cx="641.42" cy="141.2" r="0.7" fill="#ff0000"/>
<path d="M650.74 161.1L654.64 154.9L646.84 154.9Z" fill="#fff" stroke="#ff0000" stroke-width="1.4" stroke-linejoin="miter"/><circle cx="650.74" cy="157.2" r="0.7" fill="#ff0000"/>
<path d="M660.39 170.1L664.29 163.9L656.49 163.9Z" fill="#fff" stroke="#ff0000" stroke-width="1.4" stroke-linejoin="miter"/><circle cx="660.39" cy="166.2" r="0.7" fill="#ff0000"/>
<path d="M505.45 127.58L505.79 127.55M513.77 126.96L514.66 126.9M522.64 126.43L524.09 126.34M532.08 125.97L534.06 125.9M542.06 125.67L544.04 125.62M552.04 125.61L554.02 125.66M562.02 125.87L563.45 125.9M571.45 126.16L572.33 126.19M580.32 126.45L581.2 126.48M589.19 126.75L590.63 126.81M598.38 128.33L599.74 128.83M607.43 130.91L608.43 131.09M616.25 132.76L619.35 133.54M626.69 136.52L629.21 137.98M635.55 142.77L638.54 145.63M643.37 151.89L648.79 161.61M653.49 168.01L657.64 172.39" fill="none" stroke="#8000ff" stroke-width="1.3" stroke-linecap="butt"/>
<rect x="445.88" y="128.95" width="5.8" height="5.8" fill="#fff" stroke="#8000ff" stroke-width="1.4"/><rect x="447.98" y="131.05" width="1.6" height="1.6" fill="#8000ff"/>
<rect x="451.98" y="128.68" width="5.8" height="5.8" fill="#fff" stroke="#8000ff" stroke-width="1.4"/><rect x="454.08" y="130.78" width="1.6" height="1.6" fill="#8000ff"/>
<rect x="458.08" y="128.4" width="5.8" height="5.8" fill="#fff" stroke="#8000ff" stroke-width="1.4"/><rect x="460.18" y="130.5" width="1.6" height="1.6" fill="#8000ff"/>
<rect x="464.18" y="128.13" width="5.8" height="5.8" fill="#fff" stroke="#8000ff" stroke-width="1.4"/><rect x="466.28" y="130.23" width="1.6" height="1.6" fill="#8000ff"/>
<rect x="470.28" y="127.68" width="5.8" height="5.8" fill="#fff" stroke="#8000ff" stroke-width="1.4"/><rect x="472.38" y="129.78" width="1.6" height="1.6" fill="#8000ff"/>
<rect x="476.93" y="127.02" width="5.8" height="5.8" fill="#fff" stroke="#8000ff" stroke-width="1.4"/><rect x="479.03" y="129.12" width="1.6" height="1.6" fill="#8000ff"/>
<rect x="483.59" y="126.35" width="5.8" height="5.8" fill="#fff" stroke="#8000ff" stroke-width="1.4"/><rect x="485.69" y="128.45" width="1.6" height="1.6" fill="#8000ff"/>
<rect x="490.8" y="125.68" width="5.8" height="5.8" fill="#fff" stroke="#8000ff" stroke-width="1.4"/><rect x="492.9" y="127.78" width="1.6" height="1.6" fill="#8000ff"/>
<rect x="498.56" y="125.02" width="5.8" height="5.8" fill="#fff" stroke="#8000ff" stroke-width="1.4"/><rect x="500.66" y="127.12" width="1.6" height="1.6" fill="#8000ff"/>
<rect x="506.88" y="124.3" width="5.8" height="5.8" fill="#fff" stroke="#8000ff" stroke-width="1.4"/><rect x="508.98" y="126.4" width="1.6" height="1.6" fill="#8000ff"/>
<rect x="515.75" y="123.76" width="5.8" height="5.8" fill="#fff" stroke="#8000ff" stroke-width="1.4"/><rect x="517.85" y="125.86" width="1.6" height="1.6" fill="#8000ff"/>
<rect x="525.18" y="123.21" width="5.8" height="5.8" fill="#fff" stroke="#8000ff" stroke-width="1.4"/><rect x="527.28" y="125.31" width="1.6" height="1.6" fill="#8000ff"/>
<rect x="535.16" y="122.87" width="5.8" height="5.8" fill="#fff" stroke="#8000ff" stroke-width="1.4"/><rect x="537.26" y="124.97" width="1.6" height="1.6" fill="#8000ff"/>
<rect x="545.14" y="122.62" width="5.8" height="5.8" fill="#fff" stroke="#8000ff" stroke-width="1.4"/><rect x="547.24" y="124.72" width="1.6" height="1.6" fill="#8000ff"/>
<rect x="555.12" y="122.85" width="5.8" height="5.8" fill="#fff" stroke="#8000ff" stroke-width="1.4"/><rect x="557.22" y="124.95" width="1.6" height="1.6" fill="#8000ff"/>
<rect x="564.55" y="123.12" width="5.8" height="5.8" fill="#fff" stroke="#8000ff" stroke-width="1.4"/><rect x="566.65" y="125.22" width="1.6" height="1.6" fill="#8000ff"/>
<rect x="573.42" y="123.43" width="5.8" height="5.8" fill="#fff" stroke="#8000ff" stroke-width="1.4"/><rect x="575.52" y="125.53" width="1.6" height="1.6" fill="#8000ff"/>
<rect x="582.3" y="123.69" width="5.8" height="5.8" fill="#fff" stroke="#8000ff" stroke-width="1.4"/><rect x="584.4" y="125.79" width="1.6" height="1.6" fill="#8000ff"/>
<rect x="591.72" y="124.06" width="5.8" height="5.8" fill="#fff" stroke="#8000ff" stroke-width="1.4"/><rect x="593.82" y="126.16" width="1.6" height="1.6" fill="#8000ff"/>
<rect x="600.59" y="127.3" width="5.8" height="5.8" fill="#fff" stroke="#8000ff" stroke-width="1.4"/><rect x="602.69" y="129.4" width="1.6" height="1.6" fill="#8000ff"/>
<rect x="609.47" y="128.9" width="5.8" height="5.8" fill="#fff" stroke="#8000ff" stroke-width="1.4"/><rect x="611.57" y="131" width="1.6" height="1.6" fill="#8000ff"/>
<rect x="620.34" y="131.6" width="5.8" height="5.8" fill="#fff" stroke="#8000ff" stroke-width="1.4"/><rect x="622.44" y="133.7" width="1.6" height="1.6" fill="#8000ff"/>
<rect x="629.76" y="137.1" width="5.8" height="5.8" fill="#fff" stroke="#8000ff" stroke-width="1.4"/><rect x="631.86" y="139.2" width="1.6" height="1.6" fill="#8000ff"/>
<rect x="638.52" y="145.5" width="5.8" height="5.8" fill="#fff" stroke="#8000ff" stroke-width="1.4"/><rect x="640.62" y="147.6" width="1.6" height="1.6" fill="#8000ff"/>
<rect x="647.84" y="162.2" width="5.8" height="5.8" fill="#fff" stroke="#8000ff" stroke-width="1.4"/><rect x="649.94" y="164.3" width="1.6" height="1.6" fill="#8000ff"/>
<rect x="657.49" y="172.4" width="5.8" height="5.8" fill="#fff" stroke="#8000ff" stroke-width="1.4"/><rect x="659.59" y="174.5" width="1.6" height="1.6" fill="#8000ff"/>
<path d="M649.89 145.43L650.15 145.62M656.78 150.78L657.13 151.07" fill="none" stroke="#ff7f00" stroke-width="1.3" stroke-linecap="butt"/>
<circle cx="447.67" cy="131.3" r="3.2" fill="#fff" stroke="#ff7f00" stroke-width="1.6"/><circle cx="447.67" cy="131.3" r="0.7" fill="#ff7f00"/>
<circle cx="451" cy="131.15" r="3.2" fill="#fff" stroke="#ff7f00" stroke-width="1.6"/><circle cx="451" cy="131.15" r="0.7" fill="#ff7f00"/>
<circle cx="454.33" cy="131" r="3.2" fill="#fff" stroke="#ff7f00" stroke-width="1.6"/><circle cx="454.33" cy="131" r="0.7" fill="#ff7f00"/>
<circle cx="457.65" cy="130.85" r="3.2" fill="#fff" stroke="#ff7f00" stroke-width="1.6"/><circle cx="457.65" cy="130.85" r="0.7" fill="#ff7f00"/>
<circle cx="461.09" cy="130.7" r="3.2" fill="#fff" stroke="#ff7f00" stroke-width="1.6"/><circle cx="461.09" cy="130.7" r="0.7" fill="#ff7f00"/>
<circle cx="464.53" cy="130.55" r="3.2" fill="#fff" stroke="#ff7f00" stroke-width="1.6"/><circle cx="464.53" cy="130.55" r="0.7" fill="#ff7f00"/>
<circle cx="467.97" cy="130.39" r="3.2" fill="#fff" stroke="#ff7f00" stroke-width="1.6"/><circle cx="467.97" cy="130.39" r="0.7" fill="#ff7f00"/>
<circle cx="471.41" cy="130.16" r="3.2" fill="#fff" stroke="#ff7f00" stroke-width="1.6"/><circle cx="471.41" cy="130.16" r="0.7" fill="#ff7f00"/>
<circle cx="475.07" cy="129.79" r="3.2" fill="#fff" stroke="#ff7f00" stroke-width="1.6"/><circle cx="475.07" cy="129.79" r="0.7" fill="#ff7f00"/>
<circle cx="479.06" cy="129.39" r="3.2" fill="#fff" stroke="#ff7f00" stroke-width="1.6"/><circle cx="479.06" cy="129.39" r="0.7" fill="#ff7f00"/>
<circle cx="482.94" cy="129.01" r="3.2" fill="#fff" stroke="#ff7f00" stroke-width="1.6"/><circle cx="482.94" cy="129.01" r="0.7" fill="#ff7f00"/>
<circle cx="486.82" cy="128.62" r="3.2" fill="#fff" stroke="#ff7f00" stroke-width="1.6"/><circle cx="486.82" cy="128.62" r="0.7" fill="#ff7f00"/>
<circle cx="491.48" cy="128.17" r="3.2" fill="#fff" stroke="#ff7f00" stroke-width="1.6"/><circle cx="491.48" cy="128.17" r="0.7" fill="#ff7f00"/>
<circle cx="495.92" cy="127.79" r="3.2" fill="#fff" stroke="#ff7f00" stroke-width="1.6"/><circle cx="495.92" cy="127.79" r="0.7" fill="#ff7f00"/>
<circle cx="500.46" cy="127.4" r="3.2" fill="#fff" stroke="#ff7f00" stroke-width="1.6"/><circle cx="500.46" cy="127.4" r="0.7" fill="#ff7f00"/>
<circle cx="505.34" cy="126.98" r="3.2" fill="#fff" stroke="#ff7f00" stroke-width="1.6"/><circle cx="505.34" cy="126.98" r="0.7" fill="#ff7f00"/>
<circle cx="511.55" cy="126.47" r="3.2" fill="#fff" stroke="#ff7f00" stroke-width="1.6"/><circle cx="511.55" cy="126.47" r="0.7" fill="#ff7f00"/>
<circle cx="518.32" cy="126.08" r="3.2" fill="#fff" stroke="#ff7f00" stroke-width="1.6"/><circle cx="518.32" cy="126.08" r="0.7" fill="#ff7f00"/>
<circle cx="524.97" cy="125.69" r="3.2" fill="#fff" stroke="#ff7f00" stroke-width="1.6"/><circle cx="524.97" cy="125.69" r="0.7" fill="#ff7f00"/>
<circle cx="532.29" cy="125.33" r="3.2" fill="#fff" stroke="#ff7f00" stroke-width="1.6"/><circle cx="532.29" cy="125.33" r="0.7" fill="#ff7f00"/>
<circle cx="539.61" cy="125.12" r="3.2" fill="#fff" stroke="#ff7f00" stroke-width="1.6"/><circle cx="539.61" cy="125.12" r="0.7" fill="#ff7f00"/>
<circle cx="547.15" cy="124.9" r="3.2" fill="#fff" stroke="#ff7f00" stroke-width="1.6"/><circle cx="547.15" cy="124.9" r="0.7" fill="#ff7f00"/>
<circle cx="555.8" cy="125.1" r="3.2" fill="#fff" stroke="#ff7f00" stroke-width="1.6"/><circle cx="555.8" cy="125.1" r="0.7" fill="#ff7f00"/>
<circle cx="564.34" cy="125.31" r="3.2" fill="#fff" stroke="#ff7f00" stroke-width="1.6"/><circle cx="564.34" cy="125.31" r="0.7" fill="#ff7f00"/>
<circle cx="573" cy="125.61" r="3.2" fill="#fff" stroke="#ff7f00" stroke-width="1.6"/><circle cx="573" cy="125.61" r="0.7" fill="#ff7f00"/>
<circle cx="581.42" cy="125.91" r="3.2" fill="#fff" stroke="#ff7f00" stroke-width="1.6"/><circle cx="581.42" cy="125.91" r="0.7" fill="#ff7f00"/>
<circle cx="589.85" cy="126.1" r="3.2" fill="#fff" stroke="#ff7f00" stroke-width="1.6"/><circle cx="589.85" cy="126.1" r="0.7" fill="#ff7f00"/>
<circle cx="597.39" cy="126.52" r="3.2" fill="#fff" stroke="#ff7f00" stroke-width="1.6"/><circle cx="597.39" cy="126.52" r="0.7" fill="#ff7f00"/>
<circle cx="604.71" cy="127.29" r="3.2" fill="#fff" stroke="#ff7f00" stroke-width="1.6"/><circle cx="604.71" cy="127.29" r="0.7" fill="#ff7f00"/>
<circle cx="611.37" cy="128.24" r="3.2" fill="#fff" stroke="#ff7f00" stroke-width="1.6"/><circle cx="611.37" cy="128.24" r="0.7" fill="#ff7f00"/>
<circle cx="617.36" cy="128.81" r="3.2" fill="#fff" stroke="#ff7f00" stroke-width="1.6"/><circle cx="617.36" cy="128.81" r="0.7" fill="#ff7f00"/>
<circle cx="623.24" cy="130.01" r="3.2" fill="#fff" stroke="#ff7f00" stroke-width="1.6"/><circle cx="623.24" cy="130.01" r="0.7" fill="#ff7f00"/>
<circle cx="628.12" cy="131.74" r="3.2" fill="#fff" stroke="#ff7f00" stroke-width="1.6"/><circle cx="628.12" cy="131.74" r="0.7" fill="#ff7f00"/>
<circle cx="632.66" cy="133.55" r="3.2" fill="#fff" stroke="#ff7f00" stroke-width="1.6"/><circle cx="632.66" cy="133.55" r="0.7" fill="#ff7f00"/>
<circle cx="636.66" cy="135.71" r="3.2" fill="#fff" stroke="#ff7f00" stroke-width="1.6"/><circle cx="636.66" cy="135.71" r="0.7" fill="#ff7f00"/>
<circle cx="640.87" cy="138.66" r="3.2" fill="#fff" stroke="#ff7f00" stroke-width="1.6"/><circle cx="640.87" cy="138.66" r="0.7" fill="#ff7f00"/>
<circle cx="646.53" cy="142.92" r="3.2" fill="#fff" stroke="#ff7f00" stroke-width="1.6"/><circle cx="646.53" cy="142.92" r="0.7" fill="#ff7f00"/>
<circle cx="653.51" cy="148.14" r="3.2" fill="#fff" stroke="#ff7f00" stroke-width="1.6"/><circle cx="653.51" cy="148.14" r="0.7" fill="#ff7f00"/>
<circle cx="660.39" cy="153.71" r="3.2" fill="#fff" stroke="#ff7f00" stroke-width="1.6"/><circle cx="660.39" cy="153.71" r="0.7" fill="#ff7f00"/>
<path d="M483.4 123.69L484.36 123.71M492.14 124.2L494.03 124.4M501.81 124.95L504.22 125.05M512.02 125.2L515.2 125.2M523 125.24L525.29 125.26M533.06 125.75L536.4 126.15M544.12 127.29L548.75 128.11M555.78 131.05L559.61 133.75M563.4 139.85L570.06 181.85M571.01 181.82L581.3 65.18M583.42 64.77L601.39 100.03M607.02 104.09L608.4 104.31M616.15 105.18L620.79 105.52M628.57 106.03L632.54 106.27M640.33 106.72L644.74 106.98M652.53 107.43L656.39 107.67" fill="none" stroke="#0000ff" stroke-width="1.3" stroke-linecap="butt"/>
<rect x="443.19" y="116.7" width="5.2" height="5.2" fill="#fff" stroke="#0000ff" stroke-width="1.45"/>
<rect x="447.07" y="121" width="5.2" height="5.2" fill="#fff" stroke="#0000ff" stroke-width="1.45"/>
<rect x="451.28" y="122.6" width="5.2" height="5.2" fill="#fff" stroke="#0000ff" stroke-width="1.45"/>
<rect x="455.94" y="122.7" width="5.2" height="5.2" fill="#fff" stroke="#0000ff" stroke-width="1.45"/>
<rect x="460.27" y="122.4" width="5.2" height="5.2" fill="#fff" stroke="#0000ff" stroke-width="1.45"/>
<rect x="465.15" y="121.7" width="5.2" height="5.2" fill="#fff" stroke="#0000ff" stroke-width="1.45"/>
<rect x="470.36" y="122.2" width="5.2" height="5.2" fill="#fff" stroke="#0000ff" stroke-width="1.45"/>
<rect x="476.9" y="121" width="5.2" height="5.2" fill="#fff" stroke="#0000ff" stroke-width="1.45"/>
<rect x="485.66" y="121.2" width="5.2" height="5.2" fill="#fff" stroke="#0000ff" stroke-width="1.45"/>
<rect x="495.31" y="122.2" width="5.2" height="5.2" fill="#fff" stroke="#0000ff" stroke-width="1.45"/>
<rect x="505.52" y="122.6" width="5.2" height="5.2" fill="#fff" stroke="#0000ff" stroke-width="1.45"/>
<rect x="516.5" y="122.6" width="5.2" height="5.2" fill="#fff" stroke="#0000ff" stroke-width="1.45"/>
<rect x="526.59" y="122.7" width="5.2" height="5.2" fill="#fff" stroke="#0000ff" stroke-width="1.45"/>
<rect x="537.68" y="124" width="5.2" height="5.2" fill="#fff" stroke="#0000ff" stroke-width="1.45"/>
<rect x="549.99" y="126.2" width="5.2" height="5.2" fill="#fff" stroke="#0000ff" stroke-width="1.45"/>
<rect x="560.19" y="133.4" width="5.2" height="5.2" fill="#fff" stroke="#0000ff" stroke-width="1.45"/>
<rect x="568.07" y="183.1" width="5.2" height="5.2" fill="#fff" stroke="#0000ff" stroke-width="1.45"/>
<rect x="579.05" y="58.7" width="5.2" height="5.2" fill="#fff" stroke="#0000ff" stroke-width="1.45"/>
<rect x="600.56" y="100.9" width="5.2" height="5.2" fill="#fff" stroke="#0000ff" stroke-width="1.45"/>
<rect x="609.66" y="102.3" width="5.2" height="5.2" fill="#fff" stroke="#0000ff" stroke-width="1.45"/>
<rect x="622.08" y="103.2" width="5.2" height="5.2" fill="#fff" stroke="#0000ff" stroke-width="1.45"/>
<rect x="633.83" y="103.9" width="5.2" height="5.2" fill="#fff" stroke="#0000ff" stroke-width="1.45"/>
<rect x="646.03" y="104.6" width="5.2" height="5.2" fill="#fff" stroke="#0000ff" stroke-width="1.45"/>
<rect x="657.68" y="105.3" width="5.2" height="5.2" fill="#fff" stroke="#0000ff" stroke-width="1.45"/>
<line x1="432.2" y1="24.8" x2="439.5" y2="24.8" stroke="#0c0c9e" stroke-width="1.5"/>
<line x1="450.5" y1="24.8" x2="457.8" y2="24.8" stroke="#0c0c9e" stroke-width="1.5"/>
<rect x="442.61" y="22.41" width="4.78" height="4.78" fill="#fff" stroke="#0c0c9e" stroke-width="1.45"/>
<text x="464.7" y="29.1" font-size="10.4" text-anchor="start" font-weight="normal" fill="#1a1a1a" textLength="37.8" lengthAdjust="spacingAndGlyphs">NCM50</text>
<line x1="432.2" y1="38.1" x2="439.5" y2="38.1" stroke="#108a8a" stroke-width="1.5"/>
<line x1="450.5" y1="38.1" x2="457.8" y2="38.1" stroke="#108a8a" stroke-width="1.5"/>
<path d="M445 34.34L448.76 38.1L445 41.86L441.24 38.1Z" fill="#fff" stroke="#108a8a" stroke-width="1.4"/>
<text x="464.7" y="42.4" font-size="10.4" text-anchor="start" font-weight="normal" fill="#1a1a1a" textLength="37.8" lengthAdjust="spacingAndGlyphs">NCM60</text>
<line x1="432.2" y1="51.4" x2="439.5" y2="51.4" stroke="#0000ff" stroke-width="1.5"/>
<line x1="450.5" y1="51.4" x2="457.8" y2="51.4" stroke="#0000ff" stroke-width="1.5"/>
<rect x="442.61" y="49.01" width="4.78" height="4.78" fill="#fff" stroke="#0000ff" stroke-width="1.45"/>
<text x="464.7" y="55.7" font-size="10.4" text-anchor="start" font-weight="normal" fill="#1a1a1a" textLength="37.8" lengthAdjust="spacingAndGlyphs">NCM80</text>
<line x1="432.2" y1="64.7" x2="439.5" y2="64.7" stroke="#8b0000" stroke-width="1.5"/>
<line x1="450.5" y1="64.7" x2="457.8" y2="64.7" stroke="#8b0000" stroke-width="1.5"/>
<path d="M445 61.64L448.78 67.76L441.22 67.76Z" fill="#fff" stroke="#8b0000" stroke-width="1.4" stroke-linejoin="miter"/>
<text x="464.7" y="69" font-size="10.4" text-anchor="start" font-weight="normal" fill="#1a1a1a" textLength="37.8" lengthAdjust="spacingAndGlyphs">NCM90</text>
<line x1="432.2" y1="78" x2="439.5" y2="78" stroke="#8b0000" stroke-width="1.5"/>
<line x1="450.5" y1="78" x2="457.8" y2="78" stroke="#8b0000" stroke-width="1.5"/>
<path d="M445 74.2L449.56 81.8L440.44 81.8Z" fill="#8b0000" stroke="#8b0000" stroke-width="0.6"/>
<text x="464.7" y="82.3" font-size="10.4" text-anchor="start" font-weight="normal" fill="#1a1a1a" textLength="55.5" lengthAdjust="spacingAndGlyphs">NCM90_H3</text>
<line x1="432.2" y1="91.3" x2="439.5" y2="91.3" stroke="#000000" stroke-width="1.5"/>
<line x1="450.5" y1="91.3" x2="457.8" y2="91.3" stroke="#000000" stroke-width="1.5"/>
<rect x="442.14" y="88.44" width="5.72" height="5.72" fill="#fff" stroke="#000000" stroke-width="1.45"/>
<text x="464.7" y="95.6" font-size="10.4" text-anchor="start" font-weight="normal" fill="#1a1a1a" textLength="21.8" lengthAdjust="spacingAndGlyphs">LNO</text>
<line x1="432.2" y1="104.6" x2="439.5" y2="104.6" stroke="#000000" stroke-width="1.5"/>
<line x1="450.5" y1="104.6" x2="457.8" y2="104.6" stroke="#000000" stroke-width="1.5"/>
<rect x="441.8" y="101.4" width="6.4" height="6.4" fill="#000000" stroke="#000000" stroke-width="0.6"/>
<text x="464.7" y="108.9" font-size="10.4" text-anchor="start" font-weight="normal" fill="#1a1a1a" textLength="39.5" lengthAdjust="spacingAndGlyphs">LNO_H3</text>
<line x1="432.2" y1="176.7" x2="439.5" y2="176.7" stroke="#ff7f00" stroke-width="1.5"/>
<line x1="450.5" y1="176.7" x2="457.8" y2="176.7" stroke="#ff7f00" stroke-width="1.5"/>
<circle cx="445" cy="176.7" r="3.3" fill="#fff" stroke="#ff7f00" stroke-width="1.6"/><circle cx="445" cy="176.7" r="0.7" fill="#ff7f00"/>
<text x="464.7" y="181" font-size="10.4" text-anchor="start" font-weight="normal" fill="#1a1a1a" textLength="56.5" lengthAdjust="spacingAndGlyphs">QO-NCM45</text>
<line x1="432.2" y1="190" x2="439.5" y2="190" stroke="#ff0000" stroke-width="1.5"/>
<line x1="450.5" y1="190" x2="457.8" y2="190" stroke="#ff0000" stroke-width="1.5"/>
<path d="M445 193.41L449.29 186.59L440.71 186.59Z" fill="#fff" stroke="#ff0000" stroke-width="1.4" stroke-linejoin="miter"/><circle cx="445" cy="189.2" r="0.7" fill="#ff0000"/>
<text x="464.7" y="194.3" font-size="10.4" text-anchor="start" font-weight="normal" fill="#1a1a1a" textLength="56.5" lengthAdjust="spacingAndGlyphs">QO-NCM50</text>
<line x1="432.2" y1="203.3" x2="439.5" y2="203.3" stroke="#8000ff" stroke-width="1.5"/>
<line x1="450.5" y1="203.3" x2="457.8" y2="203.3" stroke="#8000ff" stroke-width="1.5"/>
<rect x="442.19" y="200.49" width="5.63" height="5.63" fill="#fff" stroke="#8000ff" stroke-width="1.4"/><rect x="444.2" y="202.5" width="1.6" height="1.6" fill="#8000ff"/>
<text x="464.7" y="207.6" font-size="10.4" text-anchor="start" font-weight="normal" fill="#1a1a1a" textLength="49.5" lengthAdjust="spacingAndGlyphs">QO-NM60</text>
</g>
</svg></body></html>
